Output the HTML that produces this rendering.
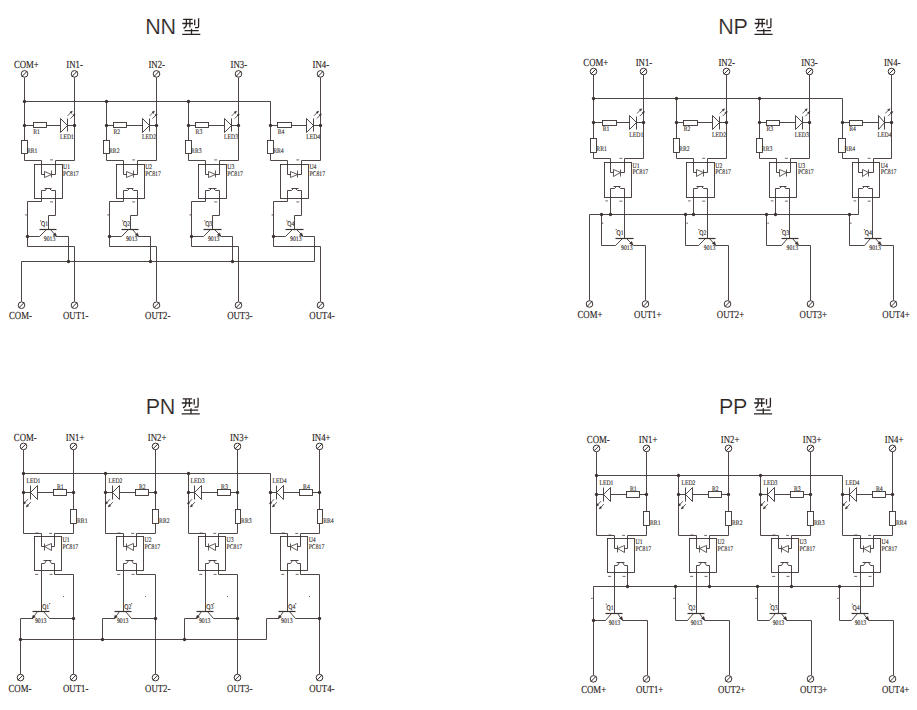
<!DOCTYPE html>
<html><head><meta charset="utf-8"><title>NN NP PN PP</title>
<style>html,body{margin:0;padding:0;background:#fff;width:917px;height:710px;overflow:hidden;font-family:"Liberation Sans",sans-serif;}svg{display:block;}</style>
</head><body>
<svg width="917" height="710" viewBox="0 0 917 710" stroke-linecap="butt"><text x="145.2" y="34" font-size="21.5" fill="#2a2322" font-family="Liberation Sans" stroke="#fff" stroke-width="0.2" letter-spacing="-0.3">NN</text>
<g transform="translate(182.1,34.3) scale(1)"><path d="M1.1,-14.9 H10.5 M0.2,-10.8 H10.9 M4.3,-14.9 V-9.6 Q4.2,-7.2 1.4,-6.0 M7.8,-14.9 V-6.8 M12.6,-14.9 V-9.1 M16.5,-16.1 V-7.8 Q16.5,-6.6 15.2,-6.6 H12.9 M2.4,-3.7 H16.6 M9.4,-5.6 V0 M0.1,0 H18.2" stroke="#2a2322" stroke-width="1.3" fill="none"/></g>
<text x="718.3" y="34" font-size="21.5" fill="#2a2322" font-family="Liberation Sans" stroke="#fff" stroke-width="0.2" letter-spacing="-0.3">NP</text>
<g transform="translate(754.4,34.3) scale(1)"><path d="M1.1,-14.9 H10.5 M0.2,-10.8 H10.9 M4.3,-14.9 V-9.6 Q4.2,-7.2 1.4,-6.0 M7.8,-14.9 V-6.8 M12.6,-14.9 V-9.1 M16.5,-16.1 V-7.8 Q16.5,-6.6 15.2,-6.6 H12.9 M2.4,-3.7 H16.6 M9.4,-5.6 V0 M0.1,0 H18.2" stroke="#2a2322" stroke-width="1.3" fill="none"/></g>
<text x="145.8" y="413.5" font-size="21.5" fill="#2a2322" font-family="Liberation Sans" stroke="#fff" stroke-width="0.2" letter-spacing="-0.3">PN</text>
<g transform="translate(181.6,413.8) scale(1)"><path d="M1.1,-14.9 H10.5 M0.2,-10.8 H10.9 M4.3,-14.9 V-9.6 Q4.2,-7.2 1.4,-6.0 M7.8,-14.9 V-6.8 M12.6,-14.9 V-9.1 M16.5,-16.1 V-7.8 Q16.5,-6.6 15.2,-6.6 H12.9 M2.4,-3.7 H16.6 M9.4,-5.6 V0 M0.1,0 H18.2" stroke="#2a2322" stroke-width="1.3" fill="none"/></g>
<text x="719" y="413.5" font-size="21.5" fill="#2a2322" font-family="Liberation Sans" stroke="#fff" stroke-width="0.2" letter-spacing="-0.3">PP</text>
<g transform="translate(753.9,413.8) scale(1)"><path d="M1.1,-14.9 H10.5 M0.2,-10.8 H10.9 M4.3,-14.9 V-9.6 Q4.2,-7.2 1.4,-6.0 M7.8,-14.9 V-6.8 M12.6,-14.9 V-9.1 M16.5,-16.1 V-7.8 Q16.5,-6.6 15.2,-6.6 H12.9 M2.4,-3.7 H16.6 M9.4,-5.6 V0 M0.1,0 H18.2" stroke="#2a2322" stroke-width="1.3" fill="none"/></g>
<circle cx="74.5" cy="73.9" r="3.3" stroke="#3a3230" stroke-width="1.0" fill="#fff"/>
<path d="M71.86,76.54 L77.14,71.26" stroke="#3a3230" stroke-width="1" fill="none"/>
<text transform="translate(66.3,67.9) scale(0.82,1)" font-size="10.7" text-anchor="start" fill="#2b2421" font-family="Liberation Serif" text-rendering="geometricPrecision" stroke="#2b2421" stroke-width="0.15">IN1-</text>
<path d="M74.5,77.5 L74.5,160.5 L55.5,160.5 L55.5,174.5 L51.5,174.5" stroke="#3a3230" stroke-width="0.9" fill="none"/>
<path d="M24.5,101.5 L24.5,140.5" stroke="#3a3230" stroke-width="0.9" fill="none"/>
<rect x="21.5" y="140.5" width="6" height="13" stroke="#3a3230" stroke-width="0.9" fill="none"/>
<path d="M24.5,153.5 L24.5,160.5 L41.5,160.5 L41.5,174.5 L44.5,174.5" stroke="#3a3230" stroke-width="0.9" fill="none"/>
<path d="M24.5,125.5 L74.5,125.5" stroke="#3a3230" stroke-width="0.9" fill="none"/>
<rect x="33.5" y="122.5" width="13" height="5" stroke="#3a3230" stroke-width="0.9" fill="#fff"/>
<path d="M60.5,118.5 L60.5,132.5 L67.5,125.5 Z" stroke="#3a3230" stroke-width="0.9" fill="#fff"/>
<path d="M67.5,118.5 L67.5,131.5" stroke="#3a3230" stroke-width="0.9" fill="none"/>
<circle cx="24.5" cy="125.5" r="1.65" fill="#3a3230"/>
<circle cx="74.5" cy="125.5" r="1.65" fill="#3a3230"/>
<path d="M67.6,115.8 L72.2,111.2" stroke="#3a3230" stroke-width="0.8" fill="none"/>
<path d="M72.2,111.2 L71.35,113.46 L69.94,112.05 Z" stroke="#3a3230" stroke-width="0.5" fill="#3a3230"/>
<path d="M70.4,118.6 L75,114" stroke="#3a3230" stroke-width="0.8" fill="none"/>
<path d="M75,114 L74.15,116.26 L72.74,114.85 Z" stroke="#3a3230" stroke-width="0.5" fill="#3a3230"/>
<text transform="translate(36.6,133.8) scale(0.82,1)" font-size="7" text-anchor="middle" fill="#2b2421" font-family="Liberation Serif" text-rendering="geometricPrecision" stroke="#2b2421" stroke-width="0.12">R1</text>
<text transform="translate(66.9,138.9) scale(0.82,1)" font-size="7" text-anchor="middle" fill="#2b2421" font-family="Liberation Serif" text-rendering="geometricPrecision" stroke="#2b2421" stroke-width="0.12">LED1</text>
<text transform="translate(26.9,152.9) scale(0.82,1)" font-size="7" text-anchor="start" fill="#2b2421" font-family="Liberation Serif" text-rendering="geometricPrecision" stroke="#2b2421" stroke-width="0.12">RR1</text>
<rect x="34.5" y="164.5" width="28" height="34" stroke="#3a3230" stroke-width="0.9" fill="none"/>
<path d="M44.5,171.5 L44.5,177.5 L51.5,174.5 Z" stroke="#3a3230" stroke-width="0.8" fill="none"/>
<path d="M51.5,170.5 L51.5,177.5" stroke="#3a3230" stroke-width="0.8" fill="none"/>
<text transform="translate(63.1,169.1) scale(0.82,1)" font-size="7" text-anchor="start" fill="#2b2421" font-family="Liberation Serif" text-rendering="geometricPrecision" stroke="#2b2421" stroke-width="0.12">U1</text>
<text transform="translate(63.1,175.8) scale(0.82,1)" font-size="7" text-anchor="start" fill="#2b2421" font-family="Liberation Serif" text-rendering="geometricPrecision" stroke="#2b2421" stroke-width="0.12">PC817</text>
<rect x="50" y="159.4" width="3" height="1" fill="#4e4644" opacity="0.8"/>
<rect x="50" y="201.4" width="3" height="1" fill="#4e4644" opacity="0.8"/>
<circle cx="24.5" cy="101.5" r="1.65" fill="#3a3230"/>
<circle cx="156.5" cy="73.9" r="3.3" stroke="#3a3230" stroke-width="1.0" fill="#fff"/>
<path d="M153.86,76.54 L159.14,71.26" stroke="#3a3230" stroke-width="1" fill="none"/>
<text transform="translate(148.4,67.9) scale(0.82,1)" font-size="10.7" text-anchor="start" fill="#2b2421" font-family="Liberation Serif" text-rendering="geometricPrecision" stroke="#2b2421" stroke-width="0.15">IN2-</text>
<path d="M156.5,77.5 L156.5,160.5 L137.5,160.5 L137.5,174.5 L133.5,174.5" stroke="#3a3230" stroke-width="0.9" fill="none"/>
<path d="M106.5,101.5 L106.5,140.5" stroke="#3a3230" stroke-width="0.9" fill="none"/>
<rect x="103.5" y="140.5" width="6" height="13" stroke="#3a3230" stroke-width="0.9" fill="none"/>
<path d="M106.5,153.5 L106.5,160.5 L123.5,160.5 L123.5,174.5 L126.5,174.5" stroke="#3a3230" stroke-width="0.9" fill="none"/>
<path d="M106.5,125.5 L156.5,125.5" stroke="#3a3230" stroke-width="0.9" fill="none"/>
<rect x="113.5" y="122.5" width="13" height="5" stroke="#3a3230" stroke-width="0.9" fill="#fff"/>
<path d="M142.5,118.5 L142.5,132.5 L149.5,125.5 Z" stroke="#3a3230" stroke-width="0.9" fill="#fff"/>
<path d="M149.5,118.5 L149.5,131.5" stroke="#3a3230" stroke-width="0.9" fill="none"/>
<circle cx="106.5" cy="125.5" r="1.65" fill="#3a3230"/>
<circle cx="156.5" cy="125.5" r="1.65" fill="#3a3230"/>
<path d="M149.7,115.8 L154.3,111.2" stroke="#3a3230" stroke-width="0.8" fill="none"/>
<path d="M154.3,111.2 L153.45,113.46 L152.04,112.05 Z" stroke="#3a3230" stroke-width="0.5" fill="#3a3230"/>
<path d="M152.5,118.6 L157.1,114" stroke="#3a3230" stroke-width="0.8" fill="none"/>
<path d="M157.1,114 L156.25,116.26 L154.84,114.85 Z" stroke="#3a3230" stroke-width="0.5" fill="#3a3230"/>
<text transform="translate(116.8,133.8) scale(0.82,1)" font-size="7" text-anchor="middle" fill="#2b2421" font-family="Liberation Serif" text-rendering="geometricPrecision" stroke="#2b2421" stroke-width="0.12">R2</text>
<text transform="translate(149,138.9) scale(0.82,1)" font-size="7" text-anchor="middle" fill="#2b2421" font-family="Liberation Serif" text-rendering="geometricPrecision" stroke="#2b2421" stroke-width="0.12">LED2</text>
<text transform="translate(109,152.9) scale(0.82,1)" font-size="7" text-anchor="start" fill="#2b2421" font-family="Liberation Serif" text-rendering="geometricPrecision" stroke="#2b2421" stroke-width="0.12">RR2</text>
<rect x="116.5" y="164.5" width="28" height="34" stroke="#3a3230" stroke-width="0.9" fill="none"/>
<path d="M126.5,171.5 L126.5,177.5 L133.5,174.5 Z" stroke="#3a3230" stroke-width="0.8" fill="none"/>
<path d="M133.5,170.5 L133.5,177.5" stroke="#3a3230" stroke-width="0.8" fill="none"/>
<text transform="translate(145.2,169.1) scale(0.82,1)" font-size="7" text-anchor="start" fill="#2b2421" font-family="Liberation Serif" text-rendering="geometricPrecision" stroke="#2b2421" stroke-width="0.12">U2</text>
<text transform="translate(145.2,175.8) scale(0.82,1)" font-size="7" text-anchor="start" fill="#2b2421" font-family="Liberation Serif" text-rendering="geometricPrecision" stroke="#2b2421" stroke-width="0.12">PC817</text>
<rect x="132.1" y="159.4" width="3" height="1" fill="#4e4644" opacity="0.8"/>
<rect x="132.1" y="201.4" width="3" height="1" fill="#4e4644" opacity="0.8"/>
<circle cx="106.5" cy="101.5" r="1.65" fill="#3a3230"/>
<circle cx="238.5" cy="73.9" r="3.3" stroke="#3a3230" stroke-width="1.0" fill="#fff"/>
<path d="M235.86,76.54 L241.14,71.26" stroke="#3a3230" stroke-width="1" fill="none"/>
<text transform="translate(230.5,67.9) scale(0.82,1)" font-size="10.7" text-anchor="start" fill="#2b2421" font-family="Liberation Serif" text-rendering="geometricPrecision" stroke="#2b2421" stroke-width="0.15">IN3-</text>
<path d="M238.5,77.5 L238.5,160.5 L219.5,160.5 L219.5,174.5 L215.5,174.5" stroke="#3a3230" stroke-width="0.9" fill="none"/>
<path d="M188.5,101.5 L188.5,140.5" stroke="#3a3230" stroke-width="0.9" fill="none"/>
<rect x="185.5" y="140.5" width="6" height="13" stroke="#3a3230" stroke-width="0.9" fill="none"/>
<path d="M188.5,153.5 L188.5,160.5 L205.5,160.5 L205.5,174.5 L208.5,174.5" stroke="#3a3230" stroke-width="0.9" fill="none"/>
<path d="M188.5,125.5 L238.5,125.5" stroke="#3a3230" stroke-width="0.9" fill="none"/>
<rect x="195.5" y="122.5" width="13" height="5" stroke="#3a3230" stroke-width="0.9" fill="#fff"/>
<path d="M224.5,118.5 L224.5,132.5 L231.5,125.5 Z" stroke="#3a3230" stroke-width="0.9" fill="#fff"/>
<path d="M231.5,118.5 L231.5,131.5" stroke="#3a3230" stroke-width="0.9" fill="none"/>
<circle cx="188.5" cy="125.5" r="1.65" fill="#3a3230"/>
<circle cx="238.5" cy="125.5" r="1.65" fill="#3a3230"/>
<path d="M231.8,115.8 L236.4,111.2" stroke="#3a3230" stroke-width="0.8" fill="none"/>
<path d="M236.4,111.2 L235.55,113.46 L234.14,112.05 Z" stroke="#3a3230" stroke-width="0.5" fill="#3a3230"/>
<path d="M234.6,118.6 L239.2,114" stroke="#3a3230" stroke-width="0.8" fill="none"/>
<path d="M239.2,114 L238.35,116.26 L236.94,114.85 Z" stroke="#3a3230" stroke-width="0.5" fill="#3a3230"/>
<text transform="translate(198.9,133.8) scale(0.82,1)" font-size="7" text-anchor="middle" fill="#2b2421" font-family="Liberation Serif" text-rendering="geometricPrecision" stroke="#2b2421" stroke-width="0.12">R3</text>
<text transform="translate(231.1,138.9) scale(0.82,1)" font-size="7" text-anchor="middle" fill="#2b2421" font-family="Liberation Serif" text-rendering="geometricPrecision" stroke="#2b2421" stroke-width="0.12">LED3</text>
<text transform="translate(191.1,152.9) scale(0.82,1)" font-size="7" text-anchor="start" fill="#2b2421" font-family="Liberation Serif" text-rendering="geometricPrecision" stroke="#2b2421" stroke-width="0.12">RR3</text>
<rect x="198.5" y="164.5" width="28" height="34" stroke="#3a3230" stroke-width="0.9" fill="none"/>
<path d="M208.5,171.5 L208.5,177.5 L215.5,174.5 Z" stroke="#3a3230" stroke-width="0.8" fill="none"/>
<path d="M215.5,170.5 L215.5,177.5" stroke="#3a3230" stroke-width="0.8" fill="none"/>
<text transform="translate(227.3,169.1) scale(0.82,1)" font-size="7" text-anchor="start" fill="#2b2421" font-family="Liberation Serif" text-rendering="geometricPrecision" stroke="#2b2421" stroke-width="0.12">U3</text>
<text transform="translate(227.3,175.8) scale(0.82,1)" font-size="7" text-anchor="start" fill="#2b2421" font-family="Liberation Serif" text-rendering="geometricPrecision" stroke="#2b2421" stroke-width="0.12">PC817</text>
<rect x="214.2" y="159.4" width="3" height="1" fill="#4e4644" opacity="0.8"/>
<rect x="214.2" y="201.4" width="3" height="1" fill="#4e4644" opacity="0.8"/>
<circle cx="188.5" cy="101.5" r="1.65" fill="#3a3230"/>
<circle cx="320.5" cy="73.9" r="3.3" stroke="#3a3230" stroke-width="1.0" fill="#fff"/>
<path d="M317.86,76.54 L323.14,71.26" stroke="#3a3230" stroke-width="1" fill="none"/>
<text transform="translate(312.6,67.9) scale(0.82,1)" font-size="10.7" text-anchor="start" fill="#2b2421" font-family="Liberation Serif" text-rendering="geometricPrecision" stroke="#2b2421" stroke-width="0.15">IN4-</text>
<path d="M320.5,77.5 L320.5,160.5 L301.5,160.5 L301.5,174.5 L297.5,174.5" stroke="#3a3230" stroke-width="0.9" fill="none"/>
<path d="M270.5,101.5 L270.5,140.5" stroke="#3a3230" stroke-width="0.9" fill="none"/>
<rect x="267.5" y="140.5" width="6" height="13" stroke="#3a3230" stroke-width="0.9" fill="none"/>
<path d="M270.5,153.5 L270.5,160.5 L287.5,160.5 L287.5,174.5 L290.5,174.5" stroke="#3a3230" stroke-width="0.9" fill="none"/>
<path d="M270.5,125.5 L320.5,125.5" stroke="#3a3230" stroke-width="0.9" fill="none"/>
<rect x="277.5" y="122.5" width="14" height="5" stroke="#3a3230" stroke-width="0.9" fill="#fff"/>
<path d="M306.5,118.5 L306.5,132.5 L313.5,125.5 Z" stroke="#3a3230" stroke-width="0.9" fill="#fff"/>
<path d="M313.5,118.5 L313.5,131.5" stroke="#3a3230" stroke-width="0.9" fill="none"/>
<circle cx="270.5" cy="125.5" r="1.65" fill="#3a3230"/>
<circle cx="320.5" cy="125.5" r="1.65" fill="#3a3230"/>
<path d="M313.9,115.8 L318.5,111.2" stroke="#3a3230" stroke-width="0.8" fill="none"/>
<path d="M318.5,111.2 L317.65,113.46 L316.24,112.05 Z" stroke="#3a3230" stroke-width="0.5" fill="#3a3230"/>
<path d="M316.7,118.6 L321.3,114" stroke="#3a3230" stroke-width="0.8" fill="none"/>
<path d="M321.3,114 L320.45,116.26 L319.04,114.85 Z" stroke="#3a3230" stroke-width="0.5" fill="#3a3230"/>
<text transform="translate(281,133.8) scale(0.82,1)" font-size="7" text-anchor="middle" fill="#2b2421" font-family="Liberation Serif" text-rendering="geometricPrecision" stroke="#2b2421" stroke-width="0.12">R4</text>
<text transform="translate(313.2,138.9) scale(0.82,1)" font-size="7" text-anchor="middle" fill="#2b2421" font-family="Liberation Serif" text-rendering="geometricPrecision" stroke="#2b2421" stroke-width="0.12">LED4</text>
<text transform="translate(273.2,152.9) scale(0.82,1)" font-size="7" text-anchor="start" fill="#2b2421" font-family="Liberation Serif" text-rendering="geometricPrecision" stroke="#2b2421" stroke-width="0.12">RR4</text>
<rect x="280.5" y="164.5" width="28" height="34" stroke="#3a3230" stroke-width="0.9" fill="none"/>
<path d="M290.5,171.5 L290.5,177.5 L297.5,174.5 Z" stroke="#3a3230" stroke-width="0.8" fill="none"/>
<path d="M297.5,170.5 L297.5,177.5" stroke="#3a3230" stroke-width="0.8" fill="none"/>
<text transform="translate(309.4,169.1) scale(0.82,1)" font-size="7" text-anchor="start" fill="#2b2421" font-family="Liberation Serif" text-rendering="geometricPrecision" stroke="#2b2421" stroke-width="0.12">U4</text>
<text transform="translate(309.4,175.8) scale(0.82,1)" font-size="7" text-anchor="start" fill="#2b2421" font-family="Liberation Serif" text-rendering="geometricPrecision" stroke="#2b2421" stroke-width="0.12">PC817</text>
<rect x="296.3" y="159.4" width="3" height="1" fill="#4e4644" opacity="0.8"/>
<rect x="296.3" y="201.4" width="3" height="1" fill="#4e4644" opacity="0.8"/>
<path d="M24.5,77.5 L24.5,101.5 L270.5,101.5" stroke="#3a3230" stroke-width="0.9" fill="none"/>
<circle cx="24.5" cy="73.9" r="3.3" stroke="#3a3230" stroke-width="1.0" fill="#fff"/>
<path d="M21.86,76.54 L27.14,71.26" stroke="#3a3230" stroke-width="1" fill="none"/>
<text transform="translate(13.9,67.9) scale(0.82,1)" font-size="10.7" text-anchor="start" fill="#2b2421" font-family="Liberation Serif" text-rendering="geometricPrecision" stroke="#2b2421" stroke-width="0.15">COM+</text>
<path d="M41.5,201.5 L41.5,190.5" stroke="#3a3230" stroke-width="0.9" fill="none"/>
<path d="M55.5,190.5 L55.5,215.5 L48.5,215.5 L48.5,229.5" stroke="#3a3230" stroke-width="0.9" fill="none"/>
<path d="M41.5,190.5 L45.5,190.5" stroke="#3a3230" stroke-width="0.9" fill="none"/>
<path d="M45.5,190.5 L46.5,188.5" stroke="#3a3230" stroke-width="0.9" fill="none"/>
<path d="M49.5,188.5 L51.5,190.5" stroke="#3a3230" stroke-width="0.9" fill="none"/>
<path d="M51.5,190.5 L55.5,190.5" stroke="#3a3230" stroke-width="0.9" fill="none"/>
<path d="M44.5,188.5 L51.5,188.5" stroke="#3a3230" stroke-width="0.9" fill="none"/>
<path d="M41.5,201.5 L27.5,201.5 L27.5,246.5 L74.5,246.5 L74.5,301.5" stroke="#3a3230" stroke-width="0.9" fill="none"/>
<circle cx="27.5" cy="236.5" r="1.65" fill="#3a3230"/>
<path d="M27.5,236.5 L39.5,236.5 L46.5,229.5" stroke="#3a3230" stroke-width="0.9" fill="none"/>
<path d="M39.5,229.5 L56.5,229.5" stroke="#3a3230" stroke-width="1.2" fill="none"/>
<path d="M50.5,229.5 L56.5,236.5 L68.5,236.5 L68.5,261.5" stroke="#3a3230" stroke-width="0.9" fill="none"/>
<path d="M56.5,236.5 L53.15,234.89 L55.43,232.94 Z" stroke="#3a3230" stroke-width="0.5" fill="#3a3230"/>
<circle cx="68.5" cy="261.5" r="1.65" fill="#3a3230"/>
<text transform="translate(41,226.4) scale(0.82,1)" font-size="7" text-anchor="start" fill="#2b2421" font-family="Liberation Serif" text-rendering="geometricPrecision" stroke="#2b2421" stroke-width="0.12">Q1</text>
<rect x="25.3" y="214.3" width="1.6" height="1.2" fill="#4e4644" opacity="0.8"/>
<rect x="40" y="220.3" width="1.2" height="1.2" fill="#4e4644" opacity="0.8"/>
<text transform="translate(43.8,241) scale(0.82,1)" font-size="7" text-anchor="start" fill="#2b2421" font-family="Liberation Serif" text-rendering="geometricPrecision" stroke="#2b2421" stroke-width="0.12">9013</text>
<circle cx="74.5" cy="305.2" r="3.3" stroke="#3a3230" stroke-width="1.0" fill="#fff"/>
<path d="M71.86,307.84 L77.14,302.56" stroke="#3a3230" stroke-width="1" fill="none"/>
<text transform="translate(63,319.2) scale(0.82,1)" font-size="10.7" text-anchor="start" fill="#2b2421" font-family="Liberation Serif" text-rendering="geometricPrecision" stroke="#2b2421" stroke-width="0.15">OUT1-</text>
<path d="M123.5,201.5 L123.5,190.5" stroke="#3a3230" stroke-width="0.9" fill="none"/>
<path d="M137.5,190.5 L137.5,215.5 L130.5,215.5 L130.5,229.5" stroke="#3a3230" stroke-width="0.9" fill="none"/>
<path d="M123.5,190.5 L127.5,190.5" stroke="#3a3230" stroke-width="0.9" fill="none"/>
<path d="M127.5,190.5 L129.5,188.5" stroke="#3a3230" stroke-width="0.9" fill="none"/>
<path d="M131.5,188.5 L133.5,190.5" stroke="#3a3230" stroke-width="0.9" fill="none"/>
<path d="M133.5,190.5 L137.5,190.5" stroke="#3a3230" stroke-width="0.9" fill="none"/>
<path d="M126.5,188.5 L133.5,188.5" stroke="#3a3230" stroke-width="0.9" fill="none"/>
<path d="M123.5,201.5 L109.5,201.5 L109.5,246.5 L156.5,246.5 L156.5,301.5" stroke="#3a3230" stroke-width="0.9" fill="none"/>
<circle cx="109.5" cy="236.5" r="1.65" fill="#3a3230"/>
<path d="M109.5,236.5 L121.5,236.5 L128.5,229.5" stroke="#3a3230" stroke-width="0.9" fill="none"/>
<path d="M121.5,229.5 L138.5,229.5" stroke="#3a3230" stroke-width="1.2" fill="none"/>
<path d="M132.5,229.5 L138.5,236.5 L150.5,236.5 L150.5,261.5" stroke="#3a3230" stroke-width="0.9" fill="none"/>
<path d="M138.6,236.5 L135.25,234.89 L137.53,232.94 Z" stroke="#3a3230" stroke-width="0.5" fill="#3a3230"/>
<circle cx="150.5" cy="261.5" r="1.65" fill="#3a3230"/>
<text transform="translate(123.1,226.4) scale(0.82,1)" font-size="7" text-anchor="start" fill="#2b2421" font-family="Liberation Serif" text-rendering="geometricPrecision" stroke="#2b2421" stroke-width="0.12">Q2</text>
<rect x="107.4" y="214.3" width="1.6" height="1.2" fill="#4e4644" opacity="0.8"/>
<rect x="122.1" y="220.3" width="1.2" height="1.2" fill="#4e4644" opacity="0.8"/>
<text transform="translate(125.9,241) scale(0.82,1)" font-size="7" text-anchor="start" fill="#2b2421" font-family="Liberation Serif" text-rendering="geometricPrecision" stroke="#2b2421" stroke-width="0.12">9013</text>
<circle cx="156.5" cy="305.2" r="3.3" stroke="#3a3230" stroke-width="1.0" fill="#fff"/>
<path d="M153.86,307.84 L159.14,302.56" stroke="#3a3230" stroke-width="1" fill="none"/>
<text transform="translate(145.1,319.2) scale(0.82,1)" font-size="10.7" text-anchor="start" fill="#2b2421" font-family="Liberation Serif" text-rendering="geometricPrecision" stroke="#2b2421" stroke-width="0.15">OUT2-</text>
<path d="M205.5,201.5 L205.5,190.5" stroke="#3a3230" stroke-width="0.9" fill="none"/>
<path d="M219.5,190.5 L219.5,215.5 L212.5,215.5 L212.5,229.5" stroke="#3a3230" stroke-width="0.9" fill="none"/>
<path d="M205.5,190.5 L209.5,190.5" stroke="#3a3230" stroke-width="0.9" fill="none"/>
<path d="M209.5,190.5 L211.5,188.5" stroke="#3a3230" stroke-width="0.9" fill="none"/>
<path d="M213.5,188.5 L215.5,190.5" stroke="#3a3230" stroke-width="0.9" fill="none"/>
<path d="M215.5,190.5 L219.5,190.5" stroke="#3a3230" stroke-width="0.9" fill="none"/>
<path d="M208.5,188.5 L216.5,188.5" stroke="#3a3230" stroke-width="0.9" fill="none"/>
<path d="M205.5,201.5 L191.5,201.5 L191.5,246.5 L238.5,246.5 L238.5,301.5" stroke="#3a3230" stroke-width="0.9" fill="none"/>
<circle cx="191.5" cy="236.5" r="1.65" fill="#3a3230"/>
<path d="M191.5,236.5 L203.5,236.5 L210.5,229.5" stroke="#3a3230" stroke-width="0.9" fill="none"/>
<path d="M203.5,229.5 L221.5,229.5" stroke="#3a3230" stroke-width="1.2" fill="none"/>
<path d="M214.5,229.5 L221.5,236.5 L232.5,236.5 L232.5,261.5" stroke="#3a3230" stroke-width="0.9" fill="none"/>
<path d="M220.7,236.5 L217.35,234.89 L219.63,232.94 Z" stroke="#3a3230" stroke-width="0.5" fill="#3a3230"/>
<circle cx="232.5" cy="261.5" r="1.65" fill="#3a3230"/>
<text transform="translate(205.2,226.4) scale(0.82,1)" font-size="7" text-anchor="start" fill="#2b2421" font-family="Liberation Serif" text-rendering="geometricPrecision" stroke="#2b2421" stroke-width="0.12">Q3</text>
<rect x="189.5" y="214.3" width="1.6" height="1.2" fill="#4e4644" opacity="0.8"/>
<rect x="204.2" y="220.3" width="1.2" height="1.2" fill="#4e4644" opacity="0.8"/>
<text transform="translate(208,241) scale(0.82,1)" font-size="7" text-anchor="start" fill="#2b2421" font-family="Liberation Serif" text-rendering="geometricPrecision" stroke="#2b2421" stroke-width="0.12">9013</text>
<circle cx="238.5" cy="305.2" r="3.3" stroke="#3a3230" stroke-width="1.0" fill="#fff"/>
<path d="M235.86,307.84 L241.14,302.56" stroke="#3a3230" stroke-width="1" fill="none"/>
<text transform="translate(227.2,319.2) scale(0.82,1)" font-size="10.7" text-anchor="start" fill="#2b2421" font-family="Liberation Serif" text-rendering="geometricPrecision" stroke="#2b2421" stroke-width="0.15">OUT3-</text>
<path d="M287.5,201.5 L287.5,190.5" stroke="#3a3230" stroke-width="0.9" fill="none"/>
<path d="M301.5,190.5 L301.5,215.5 L294.5,215.5 L294.5,229.5" stroke="#3a3230" stroke-width="0.9" fill="none"/>
<path d="M287.5,190.5 L291.5,190.5" stroke="#3a3230" stroke-width="0.9" fill="none"/>
<path d="M291.5,190.5 L293.5,188.5" stroke="#3a3230" stroke-width="0.9" fill="none"/>
<path d="M295.5,188.5 L297.5,190.5" stroke="#3a3230" stroke-width="0.9" fill="none"/>
<path d="M297.5,190.5 L301.5,190.5" stroke="#3a3230" stroke-width="0.9" fill="none"/>
<path d="M291.5,188.5 L298.5,188.5" stroke="#3a3230" stroke-width="0.9" fill="none"/>
<path d="M287.5,201.5 L273.5,201.5 L273.5,246.5 L320.5,246.5 L320.5,301.5" stroke="#3a3230" stroke-width="0.9" fill="none"/>
<circle cx="273.5" cy="236.5" r="1.65" fill="#3a3230"/>
<path d="M273.5,236.5 L285.5,236.5 L292.5,229.5" stroke="#3a3230" stroke-width="0.9" fill="none"/>
<path d="M285.5,229.5 L303.5,229.5" stroke="#3a3230" stroke-width="1.2" fill="none"/>
<path d="M296.5,229.5 L303.5,236.5 L314.5,236.5 L314.5,261.5" stroke="#3a3230" stroke-width="0.9" fill="none"/>
<path d="M302.8,236.5 L299.45,234.89 L301.73,232.94 Z" stroke="#3a3230" stroke-width="0.5" fill="#3a3230"/>
<text transform="translate(287.3,226.4) scale(0.82,1)" font-size="7" text-anchor="start" fill="#2b2421" font-family="Liberation Serif" text-rendering="geometricPrecision" stroke="#2b2421" stroke-width="0.12">Q4</text>
<rect x="271.6" y="214.3" width="1.6" height="1.2" fill="#4e4644" opacity="0.8"/>
<rect x="286.3" y="220.3" width="1.2" height="1.2" fill="#4e4644" opacity="0.8"/>
<text transform="translate(290.1,241) scale(0.82,1)" font-size="7" text-anchor="start" fill="#2b2421" font-family="Liberation Serif" text-rendering="geometricPrecision" stroke="#2b2421" stroke-width="0.12">9013</text>
<circle cx="320.5" cy="305.2" r="3.3" stroke="#3a3230" stroke-width="1.0" fill="#fff"/>
<path d="M317.86,307.84 L323.14,302.56" stroke="#3a3230" stroke-width="1" fill="none"/>
<text transform="translate(309.3,319.2) scale(0.82,1)" font-size="10.7" text-anchor="start" fill="#2b2421" font-family="Liberation Serif" text-rendering="geometricPrecision" stroke="#2b2421" stroke-width="0.15">OUT4-</text>
<path d="M21.5,301.5 L21.5,261.5 L314.5,261.5" stroke="#3a3230" stroke-width="0.9" fill="none"/>
<circle cx="21.5" cy="305.2" r="3.3" stroke="#3a3230" stroke-width="1.0" fill="#fff"/>
<path d="M18.86,307.84 L24.14,302.56" stroke="#3a3230" stroke-width="1" fill="none"/>
<text transform="translate(9,319.2) scale(0.82,1)" font-size="10.7" text-anchor="start" fill="#2b2421" font-family="Liberation Serif" text-rendering="geometricPrecision" stroke="#2b2421" stroke-width="0.15">COM-</text>
<circle cx="643.5" cy="71.5" r="3.3" stroke="#3a3230" stroke-width="1.0" fill="#fff"/>
<path d="M640.86,74.14 L646.14,68.86" stroke="#3a3230" stroke-width="1" fill="none"/>
<text transform="translate(635.7,65.5) scale(0.82,1)" font-size="10.7" text-anchor="start" fill="#2b2421" font-family="Liberation Serif" text-rendering="geometricPrecision" stroke="#2b2421" stroke-width="0.15">IN1-</text>
<path d="M643.5,74.5 L643.5,158.5 L624.5,158.5 L624.5,172.5 L620.5,172.5" stroke="#3a3230" stroke-width="0.9" fill="none"/>
<path d="M593.5,98.5 L593.5,138.5" stroke="#3a3230" stroke-width="0.9" fill="none"/>
<rect x="590.5" y="138.5" width="6" height="14" stroke="#3a3230" stroke-width="0.9" fill="none"/>
<path d="M593.5,152.5 L593.5,158.5 L610.5,158.5 L610.5,172.5 L613.5,172.5" stroke="#3a3230" stroke-width="0.9" fill="none"/>
<path d="M593.5,122.5 L643.5,122.5" stroke="#3a3230" stroke-width="0.9" fill="none"/>
<rect x="602.5" y="120.5" width="14" height="5" stroke="#3a3230" stroke-width="0.9" fill="#fff"/>
<path d="M629.5,115.5 L629.5,129.5 L636.5,122.5 Z" stroke="#3a3230" stroke-width="0.9" fill="#fff"/>
<path d="M636.5,116.5 L636.5,129.5" stroke="#3a3230" stroke-width="0.9" fill="none"/>
<circle cx="593.5" cy="122.5" r="1.65" fill="#3a3230"/>
<circle cx="643.5" cy="122.5" r="1.65" fill="#3a3230"/>
<path d="M637,113.4 L641.6,108.8" stroke="#3a3230" stroke-width="0.8" fill="none"/>
<path d="M641.6,108.8 L640.75,111.06 L639.34,109.65 Z" stroke="#3a3230" stroke-width="0.5" fill="#3a3230"/>
<path d="M639.8,116.2 L644.4,111.6" stroke="#3a3230" stroke-width="0.8" fill="none"/>
<path d="M644.4,111.6 L643.55,113.86 L642.14,112.45 Z" stroke="#3a3230" stroke-width="0.5" fill="#3a3230"/>
<text transform="translate(606,131.4) scale(0.82,1)" font-size="7" text-anchor="middle" fill="#2b2421" font-family="Liberation Serif" text-rendering="geometricPrecision" stroke="#2b2421" stroke-width="0.12">R1</text>
<text transform="translate(636.3,136.5) scale(0.82,1)" font-size="7" text-anchor="middle" fill="#2b2421" font-family="Liberation Serif" text-rendering="geometricPrecision" stroke="#2b2421" stroke-width="0.12">LED1</text>
<text transform="translate(596.3,151.3) scale(0.82,1)" font-size="7" text-anchor="start" fill="#2b2421" font-family="Liberation Serif" text-rendering="geometricPrecision" stroke="#2b2421" stroke-width="0.12">RR1</text>
<rect x="604.5" y="162.5" width="27" height="35" stroke="#3a3230" stroke-width="0.9" fill="none"/>
<path d="M613.5,169.5 L613.5,176.5 L620.5,172.5 Z" stroke="#3a3230" stroke-width="0.8" fill="none"/>
<path d="M620.5,169.5 L620.5,176.5" stroke="#3a3230" stroke-width="0.8" fill="none"/>
<text transform="translate(632.5,167.5) scale(0.82,1)" font-size="7" text-anchor="start" fill="#2b2421" font-family="Liberation Serif" text-rendering="geometricPrecision" stroke="#2b2421" stroke-width="0.12">U1</text>
<text transform="translate(632.5,174.2) scale(0.82,1)" font-size="7" text-anchor="start" fill="#2b2421" font-family="Liberation Serif" text-rendering="geometricPrecision" stroke="#2b2421" stroke-width="0.12">PC817</text>
<rect x="619.4" y="157.8" width="3" height="1" fill="#4e4644" opacity="0.8"/>
<rect x="619.4" y="200.64" width="3" height="1" fill="#4e4644" opacity="0.8"/>
<circle cx="593.5" cy="98.5" r="1.65" fill="#3a3230"/>
<circle cx="726.5" cy="71.5" r="3.3" stroke="#3a3230" stroke-width="1.0" fill="#fff"/>
<path d="M723.86,74.14 L729.14,68.86" stroke="#3a3230" stroke-width="1" fill="none"/>
<text transform="translate(718.45,65.5) scale(0.82,1)" font-size="10.7" text-anchor="start" fill="#2b2421" font-family="Liberation Serif" text-rendering="geometricPrecision" stroke="#2b2421" stroke-width="0.15">IN2-</text>
<path d="M726.5,74.5 L726.5,158.5 L707.5,158.5 L707.5,172.5 L703.5,172.5" stroke="#3a3230" stroke-width="0.9" fill="none"/>
<path d="M676.5,98.5 L676.5,138.5" stroke="#3a3230" stroke-width="0.9" fill="none"/>
<rect x="673.5" y="138.5" width="6" height="14" stroke="#3a3230" stroke-width="0.9" fill="none"/>
<path d="M676.5,152.5 L676.5,158.5 L693.5,158.5 L693.5,172.5 L696.5,172.5" stroke="#3a3230" stroke-width="0.9" fill="none"/>
<path d="M676.5,122.5 L726.5,122.5" stroke="#3a3230" stroke-width="0.9" fill="none"/>
<rect x="683.5" y="120.5" width="14" height="5" stroke="#3a3230" stroke-width="0.9" fill="#fff"/>
<path d="M712.5,115.5 L712.5,129.5 L719.5,122.5 Z" stroke="#3a3230" stroke-width="0.9" fill="#fff"/>
<path d="M719.5,116.5 L719.5,129.5" stroke="#3a3230" stroke-width="0.9" fill="none"/>
<circle cx="676.5" cy="122.5" r="1.65" fill="#3a3230"/>
<circle cx="726.5" cy="122.5" r="1.65" fill="#3a3230"/>
<path d="M719.75,113.4 L724.35,108.8" stroke="#3a3230" stroke-width="0.8" fill="none"/>
<path d="M724.35,108.8 L723.5,111.06 L722.09,109.65 Z" stroke="#3a3230" stroke-width="0.5" fill="#3a3230"/>
<path d="M722.55,116.2 L727.15,111.6" stroke="#3a3230" stroke-width="0.8" fill="none"/>
<path d="M727.15,111.6 L726.3,113.86 L724.89,112.45 Z" stroke="#3a3230" stroke-width="0.5" fill="#3a3230"/>
<text transform="translate(687.05,131.4) scale(0.82,1)" font-size="7" text-anchor="middle" fill="#2b2421" font-family="Liberation Serif" text-rendering="geometricPrecision" stroke="#2b2421" stroke-width="0.12">R2</text>
<text transform="translate(719.05,136.5) scale(0.82,1)" font-size="7" text-anchor="middle" fill="#2b2421" font-family="Liberation Serif" text-rendering="geometricPrecision" stroke="#2b2421" stroke-width="0.12">LED2</text>
<text transform="translate(679.05,151.3) scale(0.82,1)" font-size="7" text-anchor="start" fill="#2b2421" font-family="Liberation Serif" text-rendering="geometricPrecision" stroke="#2b2421" stroke-width="0.12">RR2</text>
<rect x="686.5" y="162.5" width="28" height="35" stroke="#3a3230" stroke-width="0.9" fill="none"/>
<path d="M696.5,169.5 L696.5,176.5 L703.5,172.5 Z" stroke="#3a3230" stroke-width="0.8" fill="none"/>
<path d="M703.5,169.5 L703.5,176.5" stroke="#3a3230" stroke-width="0.8" fill="none"/>
<text transform="translate(715.25,167.5) scale(0.82,1)" font-size="7" text-anchor="start" fill="#2b2421" font-family="Liberation Serif" text-rendering="geometricPrecision" stroke="#2b2421" stroke-width="0.12">U2</text>
<text transform="translate(715.25,174.2) scale(0.82,1)" font-size="7" text-anchor="start" fill="#2b2421" font-family="Liberation Serif" text-rendering="geometricPrecision" stroke="#2b2421" stroke-width="0.12">PC817</text>
<rect x="702.15" y="157.8" width="3" height="1" fill="#4e4644" opacity="0.8"/>
<rect x="702.15" y="200.64" width="3" height="1" fill="#4e4644" opacity="0.8"/>
<circle cx="676.5" cy="98.5" r="1.65" fill="#3a3230"/>
<circle cx="809.5" cy="71.5" r="3.3" stroke="#3a3230" stroke-width="1.0" fill="#fff"/>
<path d="M806.86,74.14 L812.14,68.86" stroke="#3a3230" stroke-width="1" fill="none"/>
<text transform="translate(801.2,65.5) scale(0.82,1)" font-size="10.7" text-anchor="start" fill="#2b2421" font-family="Liberation Serif" text-rendering="geometricPrecision" stroke="#2b2421" stroke-width="0.15">IN3-</text>
<path d="M809.5,74.5 L809.5,158.5 L790.5,158.5 L790.5,172.5 L786.5,172.5" stroke="#3a3230" stroke-width="0.9" fill="none"/>
<path d="M759.5,98.5 L759.5,138.5" stroke="#3a3230" stroke-width="0.9" fill="none"/>
<rect x="756.5" y="138.5" width="6" height="14" stroke="#3a3230" stroke-width="0.9" fill="none"/>
<path d="M759.5,152.5 L759.5,158.5 L776.5,158.5 L776.5,172.5 L779.5,172.5" stroke="#3a3230" stroke-width="0.9" fill="none"/>
<path d="M759.5,122.5 L809.5,122.5" stroke="#3a3230" stroke-width="0.9" fill="none"/>
<rect x="766.5" y="120.5" width="13" height="5" stroke="#3a3230" stroke-width="0.9" fill="#fff"/>
<path d="M795.5,115.5 L795.5,129.5 L802.5,122.5 Z" stroke="#3a3230" stroke-width="0.9" fill="#fff"/>
<path d="M802.5,116.5 L802.5,129.5" stroke="#3a3230" stroke-width="0.9" fill="none"/>
<circle cx="759.5" cy="122.5" r="1.65" fill="#3a3230"/>
<circle cx="809.5" cy="122.5" r="1.65" fill="#3a3230"/>
<path d="M802.5,113.4 L807.1,108.8" stroke="#3a3230" stroke-width="0.8" fill="none"/>
<path d="M807.1,108.8 L806.25,111.06 L804.84,109.65 Z" stroke="#3a3230" stroke-width="0.5" fill="#3a3230"/>
<path d="M805.3,116.2 L809.9,111.6" stroke="#3a3230" stroke-width="0.8" fill="none"/>
<path d="M809.9,111.6 L809.05,113.86 L807.64,112.45 Z" stroke="#3a3230" stroke-width="0.5" fill="#3a3230"/>
<text transform="translate(769.8,131.4) scale(0.82,1)" font-size="7" text-anchor="middle" fill="#2b2421" font-family="Liberation Serif" text-rendering="geometricPrecision" stroke="#2b2421" stroke-width="0.12">R3</text>
<text transform="translate(801.8,136.5) scale(0.82,1)" font-size="7" text-anchor="middle" fill="#2b2421" font-family="Liberation Serif" text-rendering="geometricPrecision" stroke="#2b2421" stroke-width="0.12">LED3</text>
<text transform="translate(761.8,151.3) scale(0.82,1)" font-size="7" text-anchor="start" fill="#2b2421" font-family="Liberation Serif" text-rendering="geometricPrecision" stroke="#2b2421" stroke-width="0.12">RR3</text>
<rect x="769.5" y="162.5" width="27" height="35" stroke="#3a3230" stroke-width="0.9" fill="none"/>
<path d="M779.5,169.5 L779.5,176.5 L786.5,172.5 Z" stroke="#3a3230" stroke-width="0.8" fill="none"/>
<path d="M786.5,169.5 L786.5,176.5" stroke="#3a3230" stroke-width="0.8" fill="none"/>
<text transform="translate(798,167.5) scale(0.82,1)" font-size="7" text-anchor="start" fill="#2b2421" font-family="Liberation Serif" text-rendering="geometricPrecision" stroke="#2b2421" stroke-width="0.12">U3</text>
<text transform="translate(798,174.2) scale(0.82,1)" font-size="7" text-anchor="start" fill="#2b2421" font-family="Liberation Serif" text-rendering="geometricPrecision" stroke="#2b2421" stroke-width="0.12">PC817</text>
<rect x="784.9" y="157.8" width="3" height="1" fill="#4e4644" opacity="0.8"/>
<rect x="784.9" y="200.64" width="3" height="1" fill="#4e4644" opacity="0.8"/>
<circle cx="759.5" cy="98.5" r="1.65" fill="#3a3230"/>
<circle cx="891.5" cy="71.5" r="3.3" stroke="#3a3230" stroke-width="1.0" fill="#fff"/>
<path d="M888.86,74.14 L894.14,68.86" stroke="#3a3230" stroke-width="1" fill="none"/>
<text transform="translate(883.95,65.5) scale(0.82,1)" font-size="10.7" text-anchor="start" fill="#2b2421" font-family="Liberation Serif" text-rendering="geometricPrecision" stroke="#2b2421" stroke-width="0.15">IN4-</text>
<path d="M891.5,74.5 L891.5,158.5 L873.5,158.5 L873.5,172.5 L868.5,172.5" stroke="#3a3230" stroke-width="0.9" fill="none"/>
<path d="M842.5,98.5 L842.5,138.5" stroke="#3a3230" stroke-width="0.9" fill="none"/>
<rect x="838.5" y="138.5" width="7" height="14" stroke="#3a3230" stroke-width="0.9" fill="none"/>
<path d="M842.5,152.5 L842.5,158.5 L858.5,158.5 L858.5,172.5 L862.5,172.5" stroke="#3a3230" stroke-width="0.9" fill="none"/>
<path d="M842.5,122.5 L891.5,122.5" stroke="#3a3230" stroke-width="0.9" fill="none"/>
<rect x="849.5" y="120.5" width="13" height="5" stroke="#3a3230" stroke-width="0.9" fill="#fff"/>
<path d="M878.5,115.5 L878.5,129.5 L884.5,122.5 Z" stroke="#3a3230" stroke-width="0.9" fill="#fff"/>
<path d="M884.5,116.5 L884.5,129.5" stroke="#3a3230" stroke-width="0.9" fill="none"/>
<circle cx="842.5" cy="122.5" r="1.65" fill="#3a3230"/>
<circle cx="891.5" cy="122.5" r="1.65" fill="#3a3230"/>
<path d="M885.25,113.4 L889.85,108.8" stroke="#3a3230" stroke-width="0.8" fill="none"/>
<path d="M889.85,108.8 L889,111.06 L887.59,109.65 Z" stroke="#3a3230" stroke-width="0.5" fill="#3a3230"/>
<path d="M888.05,116.2 L892.65,111.6" stroke="#3a3230" stroke-width="0.8" fill="none"/>
<path d="M892.65,111.6 L891.8,113.86 L890.39,112.45 Z" stroke="#3a3230" stroke-width="0.5" fill="#3a3230"/>
<text transform="translate(852.55,131.4) scale(0.82,1)" font-size="7" text-anchor="middle" fill="#2b2421" font-family="Liberation Serif" text-rendering="geometricPrecision" stroke="#2b2421" stroke-width="0.12">R4</text>
<text transform="translate(884.55,136.5) scale(0.82,1)" font-size="7" text-anchor="middle" fill="#2b2421" font-family="Liberation Serif" text-rendering="geometricPrecision" stroke="#2b2421" stroke-width="0.12">LED4</text>
<text transform="translate(844.55,151.3) scale(0.82,1)" font-size="7" text-anchor="start" fill="#2b2421" font-family="Liberation Serif" text-rendering="geometricPrecision" stroke="#2b2421" stroke-width="0.12">RR4</text>
<rect x="852.5" y="162.5" width="27" height="35" stroke="#3a3230" stroke-width="0.9" fill="none"/>
<path d="M862.5,169.5 L862.5,176.5 L868.5,172.5 Z" stroke="#3a3230" stroke-width="0.8" fill="none"/>
<path d="M868.5,169.5 L868.5,176.5" stroke="#3a3230" stroke-width="0.8" fill="none"/>
<text transform="translate(880.75,167.5) scale(0.82,1)" font-size="7" text-anchor="start" fill="#2b2421" font-family="Liberation Serif" text-rendering="geometricPrecision" stroke="#2b2421" stroke-width="0.12">U4</text>
<text transform="translate(880.75,174.2) scale(0.82,1)" font-size="7" text-anchor="start" fill="#2b2421" font-family="Liberation Serif" text-rendering="geometricPrecision" stroke="#2b2421" stroke-width="0.12">PC817</text>
<rect x="867.65" y="157.8" width="3" height="1" fill="#4e4644" opacity="0.8"/>
<rect x="867.65" y="200.64" width="3" height="1" fill="#4e4644" opacity="0.8"/>
<path d="M593.5,74.5 L593.5,98.5 L842.5,98.5" stroke="#3a3230" stroke-width="0.9" fill="none"/>
<circle cx="593.5" cy="71.5" r="3.3" stroke="#3a3230" stroke-width="1.0" fill="#fff"/>
<path d="M590.86,74.14 L596.14,68.86" stroke="#3a3230" stroke-width="1" fill="none"/>
<text transform="translate(583.3,65.5) scale(0.82,1)" font-size="10.7" text-anchor="start" fill="#2b2421" font-family="Liberation Serif" text-rendering="geometricPrecision" stroke="#2b2421" stroke-width="0.15">COM+</text>
<path d="M610.5,214.5 L610.5,188.5" stroke="#3a3230" stroke-width="0.9" fill="none"/>
<path d="M624.5,188.5 L624.5,238.5" stroke="#3a3230" stroke-width="0.9" fill="none"/>
<path d="M610.5,188.5 L614.5,188.5" stroke="#3a3230" stroke-width="0.9" fill="none"/>
<path d="M614.5,188.5 L616.5,186.5" stroke="#3a3230" stroke-width="0.9" fill="none"/>
<path d="M618.5,186.5 L620.5,188.5" stroke="#3a3230" stroke-width="0.9" fill="none"/>
<path d="M620.5,188.5 L624.5,188.5" stroke="#3a3230" stroke-width="0.9" fill="none"/>
<path d="M613.5,186.5 L620.5,186.5" stroke="#3a3230" stroke-width="0.9" fill="none"/>
<circle cx="601.5" cy="214.5" r="1.65" fill="#3a3230"/>
<circle cx="610.5" cy="214.5" r="1.65" fill="#3a3230"/>
<path d="M601.5,214.5 L601.5,245.5 L615.5,245.5 L622.5,238.5" stroke="#3a3230" stroke-width="0.9" fill="none"/>
<path d="M615.5,238.5 L633.5,238.5" stroke="#3a3230" stroke-width="1.2" fill="none"/>
<path d="M626.5,238.5 L633.5,245.5 L645.5,245.5 L645.5,300.5" stroke="#3a3230" stroke-width="0.9" fill="none"/>
<path d="M633,245 L629.57,243.58 L631.74,241.5 Z" stroke="#3a3230" stroke-width="0.5" fill="#3a3230"/>
<text transform="translate(616.6,235.2) scale(0.82,1)" font-size="7" text-anchor="start" fill="#2b2421" font-family="Liberation Serif" text-rendering="geometricPrecision" stroke="#2b2421" stroke-width="0.12">Q1</text>
<rect x="605.3" y="200.4" width="2.6" height="1" fill="#4e4644" opacity="0.8"/>
<rect x="601.9" y="222.6" width="1.4" height="1.2" fill="#4e4644" opacity="0.8"/>
<rect x="615.6" y="229" width="1.2" height="1.2" fill="#4e4644" opacity="0.8"/>
<text transform="translate(621.1,249.9) scale(0.82,1)" font-size="7" text-anchor="start" fill="#2b2421" font-family="Liberation Serif" text-rendering="geometricPrecision" stroke="#2b2421" stroke-width="0.12">9013</text>
<circle cx="645.5" cy="304" r="3.3" stroke="#3a3230" stroke-width="1.0" fill="#fff"/>
<path d="M642.86,306.64 L648.14,301.36" stroke="#3a3230" stroke-width="1" fill="none"/>
<text transform="translate(634.1,317.8) scale(0.82,1)" font-size="10.7" text-anchor="start" fill="#2b2421" font-family="Liberation Serif" text-rendering="geometricPrecision" stroke="#2b2421" stroke-width="0.15">OUT1+</text>
<path d="M693.5,214.5 L693.5,188.5" stroke="#3a3230" stroke-width="0.9" fill="none"/>
<path d="M707.5,188.5 L707.5,238.5" stroke="#3a3230" stroke-width="0.9" fill="none"/>
<path d="M693.5,188.5 L697.5,188.5" stroke="#3a3230" stroke-width="0.9" fill="none"/>
<path d="M697.5,188.5 L698.5,186.5" stroke="#3a3230" stroke-width="0.9" fill="none"/>
<path d="M701.5,186.5 L703.5,188.5" stroke="#3a3230" stroke-width="0.9" fill="none"/>
<path d="M703.5,188.5 L707.5,188.5" stroke="#3a3230" stroke-width="0.9" fill="none"/>
<path d="M696.5,186.5 L703.5,186.5" stroke="#3a3230" stroke-width="0.9" fill="none"/>
<circle cx="685.5" cy="214.5" r="1.65" fill="#3a3230"/>
<circle cx="693.5" cy="214.5" r="1.65" fill="#3a3230"/>
<path d="M685.5,214.5 L685.5,245.5 L698.5,245.5 L705.5,238.5" stroke="#3a3230" stroke-width="0.9" fill="none"/>
<path d="M698.5,238.5 L715.5,238.5" stroke="#3a3230" stroke-width="1.2" fill="none"/>
<path d="M709.5,238.5 L715.5,245.5 L728.5,245.5 L728.5,300.5" stroke="#3a3230" stroke-width="0.9" fill="none"/>
<path d="M715.75,245 L712.32,243.58 L714.49,241.5 Z" stroke="#3a3230" stroke-width="0.5" fill="#3a3230"/>
<text transform="translate(699.35,235.2) scale(0.82,1)" font-size="7" text-anchor="start" fill="#2b2421" font-family="Liberation Serif" text-rendering="geometricPrecision" stroke="#2b2421" stroke-width="0.12">Q2</text>
<rect x="688.05" y="200.4" width="2.6" height="1" fill="#4e4644" opacity="0.8"/>
<rect x="686.45" y="222.6" width="1.4" height="1.2" fill="#4e4644" opacity="0.8"/>
<rect x="698.35" y="229" width="1.2" height="1.2" fill="#4e4644" opacity="0.8"/>
<text transform="translate(703.85,249.9) scale(0.82,1)" font-size="7" text-anchor="start" fill="#2b2421" font-family="Liberation Serif" text-rendering="geometricPrecision" stroke="#2b2421" stroke-width="0.12">9013</text>
<circle cx="727.5" cy="304" r="3.3" stroke="#3a3230" stroke-width="1.0" fill="#fff"/>
<path d="M724.86,306.64 L730.14,301.36" stroke="#3a3230" stroke-width="1" fill="none"/>
<text transform="translate(716.85,317.8) scale(0.82,1)" font-size="10.7" text-anchor="start" fill="#2b2421" font-family="Liberation Serif" text-rendering="geometricPrecision" stroke="#2b2421" stroke-width="0.15">OUT2+</text>
<path d="M775.5,214.5 L775.5,188.5" stroke="#3a3230" stroke-width="0.9" fill="none"/>
<path d="M789.5,188.5 L789.5,238.5" stroke="#3a3230" stroke-width="0.9" fill="none"/>
<path d="M775.5,188.5 L779.5,188.5" stroke="#3a3230" stroke-width="0.9" fill="none"/>
<path d="M779.5,188.5 L781.5,186.5" stroke="#3a3230" stroke-width="0.9" fill="none"/>
<path d="M784.5,186.5 L785.5,188.5" stroke="#3a3230" stroke-width="0.9" fill="none"/>
<path d="M785.5,188.5 L789.5,188.5" stroke="#3a3230" stroke-width="0.9" fill="none"/>
<path d="M779.5,186.5 L786.5,186.5" stroke="#3a3230" stroke-width="0.9" fill="none"/>
<circle cx="766.5" cy="214.5" r="1.65" fill="#3a3230"/>
<circle cx="775.5" cy="214.5" r="1.65" fill="#3a3230"/>
<path d="M766.5,214.5 L766.5,245.5 L781.5,245.5 L787.5,238.5" stroke="#3a3230" stroke-width="0.9" fill="none"/>
<path d="M781.5,238.5 L798.5,238.5" stroke="#3a3230" stroke-width="1.2" fill="none"/>
<path d="M792.5,238.5 L798.5,245.5 L810.5,245.5 L810.5,300.5" stroke="#3a3230" stroke-width="0.9" fill="none"/>
<path d="M798.5,245 L795.07,243.58 L797.24,241.5 Z" stroke="#3a3230" stroke-width="0.5" fill="#3a3230"/>
<text transform="translate(782.1,235.2) scale(0.82,1)" font-size="7" text-anchor="start" fill="#2b2421" font-family="Liberation Serif" text-rendering="geometricPrecision" stroke="#2b2421" stroke-width="0.12">Q3</text>
<rect x="770.8" y="200.4" width="2.6" height="1" fill="#4e4644" opacity="0.8"/>
<rect x="767.4" y="222.6" width="1.4" height="1.2" fill="#4e4644" opacity="0.8"/>
<rect x="781.1" y="229" width="1.2" height="1.2" fill="#4e4644" opacity="0.8"/>
<text transform="translate(786.6,249.9) scale(0.82,1)" font-size="7" text-anchor="start" fill="#2b2421" font-family="Liberation Serif" text-rendering="geometricPrecision" stroke="#2b2421" stroke-width="0.12">9013</text>
<circle cx="810.5" cy="304" r="3.3" stroke="#3a3230" stroke-width="1.0" fill="#fff"/>
<path d="M807.86,306.64 L813.14,301.36" stroke="#3a3230" stroke-width="1" fill="none"/>
<text transform="translate(799.6,317.8) scale(0.82,1)" font-size="10.7" text-anchor="start" fill="#2b2421" font-family="Liberation Serif" text-rendering="geometricPrecision" stroke="#2b2421" stroke-width="0.15">OUT3+</text>
<path d="M858.5,214.5 L858.5,188.5" stroke="#3a3230" stroke-width="0.9" fill="none"/>
<path d="M872.5,188.5 L872.5,238.5" stroke="#3a3230" stroke-width="0.9" fill="none"/>
<path d="M858.5,188.5 L862.5,188.5" stroke="#3a3230" stroke-width="0.9" fill="none"/>
<path d="M862.5,188.5 L864.5,186.5" stroke="#3a3230" stroke-width="0.9" fill="none"/>
<path d="M866.5,186.5 L868.5,188.5" stroke="#3a3230" stroke-width="0.9" fill="none"/>
<path d="M868.5,188.5 L872.5,188.5" stroke="#3a3230" stroke-width="0.9" fill="none"/>
<path d="M862.5,186.5 L869.5,186.5" stroke="#3a3230" stroke-width="0.9" fill="none"/>
<circle cx="849.5" cy="214.5" r="1.65" fill="#3a3230"/>
<path d="M849.5,214.5 L849.5,245.5 L864.5,245.5 L870.5,238.5" stroke="#3a3230" stroke-width="0.9" fill="none"/>
<path d="M864.5,238.5 L881.5,238.5" stroke="#3a3230" stroke-width="1.2" fill="none"/>
<path d="M875.5,238.5 L881.5,245.5 L893.5,245.5 L893.5,300.5" stroke="#3a3230" stroke-width="0.9" fill="none"/>
<path d="M881.25,245 L877.82,243.58 L879.99,241.5 Z" stroke="#3a3230" stroke-width="0.5" fill="#3a3230"/>
<text transform="translate(864.85,235.2) scale(0.82,1)" font-size="7" text-anchor="start" fill="#2b2421" font-family="Liberation Serif" text-rendering="geometricPrecision" stroke="#2b2421" stroke-width="0.12">Q4</text>
<rect x="853.55" y="200.4" width="2.6" height="1" fill="#4e4644" opacity="0.8"/>
<rect x="850.15" y="222.6" width="1.4" height="1.2" fill="#4e4644" opacity="0.8"/>
<rect x="863.85" y="229" width="1.2" height="1.2" fill="#4e4644" opacity="0.8"/>
<text transform="translate(869.35,249.9) scale(0.82,1)" font-size="7" text-anchor="start" fill="#2b2421" font-family="Liberation Serif" text-rendering="geometricPrecision" stroke="#2b2421" stroke-width="0.12">9013</text>
<circle cx="893.5" cy="304" r="3.3" stroke="#3a3230" stroke-width="1.0" fill="#fff"/>
<path d="M890.86,306.64 L896.14,301.36" stroke="#3a3230" stroke-width="1" fill="none"/>
<text transform="translate(882.35,317.8) scale(0.82,1)" font-size="10.7" text-anchor="start" fill="#2b2421" font-family="Liberation Serif" text-rendering="geometricPrecision" stroke="#2b2421" stroke-width="0.15">OUT4+</text>
<path d="M589.5,300.5 L589.5,214.5 L858.5,214.5" stroke="#3a3230" stroke-width="0.9" fill="none"/>
<circle cx="589.5" cy="304" r="3.3" stroke="#3a3230" stroke-width="1.0" fill="#fff"/>
<path d="M586.86,306.64 L592.14,301.36" stroke="#3a3230" stroke-width="1" fill="none"/>
<text transform="translate(577.5,317.8) scale(0.82,1)" font-size="10.7" text-anchor="start" fill="#2b2421" font-family="Liberation Serif" text-rendering="geometricPrecision" stroke="#2b2421" stroke-width="0.15">COM+</text>
<circle cx="73.5" cy="446.4" r="3.3" stroke="#3a3230" stroke-width="1.0" fill="#fff"/>
<path d="M70.86,449.04 L76.14,443.76" stroke="#3a3230" stroke-width="1" fill="none"/>
<text transform="translate(65.8,440.7) scale(0.82,1)" font-size="10.7" text-anchor="start" fill="#2b2421" font-family="Liberation Serif" text-rendering="geometricPrecision" stroke="#2b2421" stroke-width="0.15">IN1+</text>
<path d="M73.5,449.5 L73.5,509.5" stroke="#3a3230" stroke-width="0.9" fill="none"/>
<rect x="70.5" y="509.5" width="6" height="14" stroke="#3a3230" stroke-width="0.9" fill="none"/>
<path d="M73.5,523.5 L73.5,533.5 L54.5,533.5 L54.5,546.5 L51.5,546.5" stroke="#3a3230" stroke-width="0.9" fill="none"/>
<path d="M23.5,473.5 L23.5,533.5 L41.5,533.5 L41.5,546.5 L44.5,546.5" stroke="#3a3230" stroke-width="0.9" fill="none"/>
<path d="M23.5,492.5 L30.5,492.5" stroke="#3a3230" stroke-width="0.9" fill="none"/>
<path d="M37.5,485.5 L37.5,499.5 L30.5,492.5 Z" stroke="#3a3230" stroke-width="0.9" fill="none"/>
<path d="M30.5,485.5 L30.5,499.5" stroke="#3a3230" stroke-width="0.9" fill="none"/>
<path d="M37.5,492.5 L53.5,492.5" stroke="#3a3230" stroke-width="0.9" fill="none"/>
<rect x="53.5" y="489.5" width="13" height="6" stroke="#3a3230" stroke-width="0.9" fill="none"/>
<path d="M66.5,492.5 L73.5,492.5" stroke="#3a3230" stroke-width="0.9" fill="none"/>
<circle cx="23.5" cy="492.5" r="1.65" fill="#3a3230"/>
<circle cx="73.5" cy="492.5" r="1.65" fill="#3a3230"/>
<path d="M27.9,499.2 L23.5,504" stroke="#3a3230" stroke-width="0.8" fill="none"/>
<path d="M23.5,504 L24.25,501.7 L25.72,503.05 Z" stroke="#3a3230" stroke-width="0.5" fill="#3a3230"/>
<path d="M30.8,502.1 L26.4,506.9" stroke="#3a3230" stroke-width="0.8" fill="none"/>
<path d="M26.4,506.9 L27.15,504.6 L28.62,505.95 Z" stroke="#3a3230" stroke-width="0.5" fill="#3a3230"/>
<text transform="translate(33.4,483.1) scale(0.82,1)" font-size="7" text-anchor="middle" fill="#2b2421" font-family="Liberation Serif" text-rendering="geometricPrecision" stroke="#2b2421" stroke-width="0.12">LED1</text>
<text transform="translate(60.3,489) scale(0.82,1)" font-size="7" text-anchor="middle" fill="#2b2421" font-family="Liberation Serif" text-rendering="geometricPrecision" stroke="#2b2421" stroke-width="0.12">R1</text>
<text transform="translate(77,523.3) scale(0.82,1)" font-size="7" text-anchor="start" fill="#2b2421" font-family="Liberation Serif" text-rendering="geometricPrecision" stroke="#2b2421" stroke-width="0.12">RR1</text>
<rect x="34.5" y="536.5" width="27" height="34" stroke="#3a3230" stroke-width="0.9" fill="none"/>
<path d="M51.5,543.5 L51.5,550.5 L44.5,546.5 Z" stroke="#3a3230" stroke-width="0.8" fill="none"/>
<path d="M44.5,543.5 L44.5,550.5" stroke="#3a3230" stroke-width="0.8" fill="none"/>
<text transform="translate(62.5,542.2) scale(0.82,1)" font-size="7" text-anchor="start" fill="#2b2421" font-family="Liberation Serif" text-rendering="geometricPrecision" stroke="#2b2421" stroke-width="0.12">U1</text>
<rect x="35.5" y="532.5" width="3" height="1.4" fill="#4e4644" opacity="0.8"/>
<rect x="49.1" y="532.9" width="3" height="1" fill="#4e4644" opacity="0.8"/>
<rect x="35.1" y="573.9" width="3" height="1" fill="#4e4644" opacity="0.8"/>
<rect x="49.5" y="573.9" width="3" height="1" fill="#4e4644" opacity="0.8"/>
<text transform="translate(62.5,549) scale(0.82,1)" font-size="7" text-anchor="start" fill="#2b2421" font-family="Liberation Serif" text-rendering="geometricPrecision" stroke="#2b2421" stroke-width="0.12">PC817</text>
<circle cx="23.5" cy="473.5" r="1.65" fill="#3a3230"/>
<circle cx="155.5" cy="446.4" r="3.3" stroke="#3a3230" stroke-width="1.0" fill="#fff"/>
<path d="M152.86,449.04 L158.14,443.76" stroke="#3a3230" stroke-width="1" fill="none"/>
<text transform="translate(147.85,440.7) scale(0.82,1)" font-size="10.7" text-anchor="start" fill="#2b2421" font-family="Liberation Serif" text-rendering="geometricPrecision" stroke="#2b2421" stroke-width="0.15">IN2+</text>
<path d="M155.5,449.5 L155.5,509.5" stroke="#3a3230" stroke-width="0.9" fill="none"/>
<rect x="152.5" y="509.5" width="6" height="14" stroke="#3a3230" stroke-width="0.9" fill="none"/>
<path d="M155.5,523.5 L155.5,533.5 L136.5,533.5 L136.5,546.5 L133.5,546.5" stroke="#3a3230" stroke-width="0.9" fill="none"/>
<path d="M105.5,473.5 L105.5,533.5 L123.5,533.5 L123.5,546.5 L126.5,546.5" stroke="#3a3230" stroke-width="0.9" fill="none"/>
<path d="M105.5,492.5 L112.5,492.5" stroke="#3a3230" stroke-width="0.9" fill="none"/>
<path d="M119.5,485.5 L119.5,499.5 L112.5,492.5 Z" stroke="#3a3230" stroke-width="0.9" fill="none"/>
<path d="M112.5,485.5 L112.5,499.5" stroke="#3a3230" stroke-width="0.9" fill="none"/>
<path d="M119.5,492.5 L135.5,492.5" stroke="#3a3230" stroke-width="0.9" fill="none"/>
<rect x="135.5" y="489.5" width="13" height="6" stroke="#3a3230" stroke-width="0.9" fill="none"/>
<path d="M148.5,492.5 L155.5,492.5" stroke="#3a3230" stroke-width="0.9" fill="none"/>
<circle cx="105.5" cy="492.5" r="1.65" fill="#3a3230"/>
<circle cx="155.5" cy="492.5" r="1.65" fill="#3a3230"/>
<path d="M109.95,499.2 L105.55,504" stroke="#3a3230" stroke-width="0.8" fill="none"/>
<path d="M105.55,504 L106.3,501.7 L107.77,503.05 Z" stroke="#3a3230" stroke-width="0.5" fill="#3a3230"/>
<path d="M112.85,502.1 L108.45,506.9" stroke="#3a3230" stroke-width="0.8" fill="none"/>
<path d="M108.45,506.9 L109.2,504.6 L110.67,505.95 Z" stroke="#3a3230" stroke-width="0.5" fill="#3a3230"/>
<text transform="translate(115.45,483.1) scale(0.82,1)" font-size="7" text-anchor="middle" fill="#2b2421" font-family="Liberation Serif" text-rendering="geometricPrecision" stroke="#2b2421" stroke-width="0.12">LED2</text>
<text transform="translate(142.35,489) scale(0.82,1)" font-size="7" text-anchor="middle" fill="#2b2421" font-family="Liberation Serif" text-rendering="geometricPrecision" stroke="#2b2421" stroke-width="0.12">R2</text>
<text transform="translate(159.05,523.3) scale(0.82,1)" font-size="7" text-anchor="start" fill="#2b2421" font-family="Liberation Serif" text-rendering="geometricPrecision" stroke="#2b2421" stroke-width="0.12">RR2</text>
<rect x="116.5" y="536.5" width="27" height="34" stroke="#3a3230" stroke-width="0.9" fill="none"/>
<path d="M133.5,543.5 L133.5,550.5 L126.5,546.5 Z" stroke="#3a3230" stroke-width="0.8" fill="none"/>
<path d="M126.5,543.5 L126.5,550.5" stroke="#3a3230" stroke-width="0.8" fill="none"/>
<text transform="translate(144.55,542.2) scale(0.82,1)" font-size="7" text-anchor="start" fill="#2b2421" font-family="Liberation Serif" text-rendering="geometricPrecision" stroke="#2b2421" stroke-width="0.12">U2</text>
<rect x="117.55" y="532.5" width="3" height="1.4" fill="#4e4644" opacity="0.8"/>
<rect x="131.15" y="532.9" width="3" height="1" fill="#4e4644" opacity="0.8"/>
<rect x="117.15" y="573.9" width="3" height="1" fill="#4e4644" opacity="0.8"/>
<rect x="131.55" y="573.9" width="3" height="1" fill="#4e4644" opacity="0.8"/>
<text transform="translate(144.55,549) scale(0.82,1)" font-size="7" text-anchor="start" fill="#2b2421" font-family="Liberation Serif" text-rendering="geometricPrecision" stroke="#2b2421" stroke-width="0.12">PC817</text>
<circle cx="105.5" cy="473.5" r="1.65" fill="#3a3230"/>
<circle cx="237.5" cy="446.4" r="3.3" stroke="#3a3230" stroke-width="1.0" fill="#fff"/>
<path d="M234.86,449.04 L240.14,443.76" stroke="#3a3230" stroke-width="1" fill="none"/>
<text transform="translate(229.9,440.7) scale(0.82,1)" font-size="10.7" text-anchor="start" fill="#2b2421" font-family="Liberation Serif" text-rendering="geometricPrecision" stroke="#2b2421" stroke-width="0.15">IN3+</text>
<path d="M237.5,449.5 L237.5,509.5" stroke="#3a3230" stroke-width="0.9" fill="none"/>
<rect x="235.5" y="509.5" width="5" height="14" stroke="#3a3230" stroke-width="0.9" fill="none"/>
<path d="M237.5,523.5 L237.5,533.5 L218.5,533.5 L218.5,546.5 L215.5,546.5" stroke="#3a3230" stroke-width="0.9" fill="none"/>
<path d="M188.5,473.5 L188.5,533.5 L205.5,533.5 L205.5,546.5 L208.5,546.5" stroke="#3a3230" stroke-width="0.9" fill="none"/>
<path d="M188.5,492.5 L194.5,492.5" stroke="#3a3230" stroke-width="0.9" fill="none"/>
<path d="M201.5,485.5 L201.5,499.5 L194.5,492.5 Z" stroke="#3a3230" stroke-width="0.9" fill="none"/>
<path d="M194.5,485.5 L194.5,499.5" stroke="#3a3230" stroke-width="0.9" fill="none"/>
<path d="M201.5,492.5 L217.5,492.5" stroke="#3a3230" stroke-width="0.9" fill="none"/>
<rect x="217.5" y="489.5" width="13" height="6" stroke="#3a3230" stroke-width="0.9" fill="none"/>
<path d="M230.5,492.5 L237.5,492.5" stroke="#3a3230" stroke-width="0.9" fill="none"/>
<circle cx="188.5" cy="492.5" r="1.65" fill="#3a3230"/>
<circle cx="237.5" cy="492.5" r="1.65" fill="#3a3230"/>
<path d="M192,499.2 L187.6,504" stroke="#3a3230" stroke-width="0.8" fill="none"/>
<path d="M187.6,504 L188.35,501.7 L189.82,503.05 Z" stroke="#3a3230" stroke-width="0.5" fill="#3a3230"/>
<path d="M194.9,502.1 L190.5,506.9" stroke="#3a3230" stroke-width="0.8" fill="none"/>
<path d="M190.5,506.9 L191.25,504.6 L192.72,505.95 Z" stroke="#3a3230" stroke-width="0.5" fill="#3a3230"/>
<text transform="translate(197.5,483.1) scale(0.82,1)" font-size="7" text-anchor="middle" fill="#2b2421" font-family="Liberation Serif" text-rendering="geometricPrecision" stroke="#2b2421" stroke-width="0.12">LED3</text>
<text transform="translate(224.4,489) scale(0.82,1)" font-size="7" text-anchor="middle" fill="#2b2421" font-family="Liberation Serif" text-rendering="geometricPrecision" stroke="#2b2421" stroke-width="0.12">R3</text>
<text transform="translate(241.1,523.3) scale(0.82,1)" font-size="7" text-anchor="start" fill="#2b2421" font-family="Liberation Serif" text-rendering="geometricPrecision" stroke="#2b2421" stroke-width="0.12">RR3</text>
<rect x="198.5" y="536.5" width="27" height="34" stroke="#3a3230" stroke-width="0.9" fill="none"/>
<path d="M215.5,543.5 L215.5,550.5 L208.5,546.5 Z" stroke="#3a3230" stroke-width="0.8" fill="none"/>
<path d="M208.5,543.5 L208.5,550.5" stroke="#3a3230" stroke-width="0.8" fill="none"/>
<text transform="translate(226.6,542.2) scale(0.82,1)" font-size="7" text-anchor="start" fill="#2b2421" font-family="Liberation Serif" text-rendering="geometricPrecision" stroke="#2b2421" stroke-width="0.12">U3</text>
<rect x="199.6" y="532.5" width="3" height="1.4" fill="#4e4644" opacity="0.8"/>
<rect x="213.2" y="532.9" width="3" height="1" fill="#4e4644" opacity="0.8"/>
<rect x="199.2" y="573.9" width="3" height="1" fill="#4e4644" opacity="0.8"/>
<rect x="213.6" y="573.9" width="3" height="1" fill="#4e4644" opacity="0.8"/>
<text transform="translate(226.6,549) scale(0.82,1)" font-size="7" text-anchor="start" fill="#2b2421" font-family="Liberation Serif" text-rendering="geometricPrecision" stroke="#2b2421" stroke-width="0.12">PC817</text>
<circle cx="188.5" cy="473.5" r="1.65" fill="#3a3230"/>
<circle cx="319.5" cy="446.4" r="3.3" stroke="#3a3230" stroke-width="1.0" fill="#fff"/>
<path d="M316.86,449.04 L322.14,443.76" stroke="#3a3230" stroke-width="1" fill="none"/>
<text transform="translate(311.95,440.7) scale(0.82,1)" font-size="10.7" text-anchor="start" fill="#2b2421" font-family="Liberation Serif" text-rendering="geometricPrecision" stroke="#2b2421" stroke-width="0.15">IN4+</text>
<path d="M319.5,449.5 L319.5,509.5" stroke="#3a3230" stroke-width="0.9" fill="none"/>
<rect x="317.5" y="509.5" width="5" height="14" stroke="#3a3230" stroke-width="0.9" fill="none"/>
<path d="M319.5,523.5 L319.5,533.5 L300.5,533.5 L300.5,546.5 L297.5,546.5" stroke="#3a3230" stroke-width="0.9" fill="none"/>
<path d="M270.5,473.5 L270.5,533.5 L287.5,533.5 L287.5,546.5 L290.5,546.5" stroke="#3a3230" stroke-width="0.9" fill="none"/>
<path d="M270.5,492.5 L276.5,492.5" stroke="#3a3230" stroke-width="0.9" fill="none"/>
<path d="M283.5,485.5 L283.5,499.5 L276.5,492.5 Z" stroke="#3a3230" stroke-width="0.9" fill="none"/>
<path d="M276.5,485.5 L276.5,499.5" stroke="#3a3230" stroke-width="0.9" fill="none"/>
<path d="M283.5,492.5 L299.5,492.5" stroke="#3a3230" stroke-width="0.9" fill="none"/>
<rect x="299.5" y="489.5" width="13" height="6" stroke="#3a3230" stroke-width="0.9" fill="none"/>
<path d="M312.5,492.5 L319.5,492.5" stroke="#3a3230" stroke-width="0.9" fill="none"/>
<circle cx="270.5" cy="492.5" r="1.65" fill="#3a3230"/>
<circle cx="319.5" cy="492.5" r="1.65" fill="#3a3230"/>
<path d="M274.05,499.2 L269.65,504" stroke="#3a3230" stroke-width="0.8" fill="none"/>
<path d="M269.65,504 L270.4,501.7 L271.87,503.05 Z" stroke="#3a3230" stroke-width="0.5" fill="#3a3230"/>
<path d="M276.95,502.1 L272.55,506.9" stroke="#3a3230" stroke-width="0.8" fill="none"/>
<path d="M272.55,506.9 L273.3,504.6 L274.77,505.95 Z" stroke="#3a3230" stroke-width="0.5" fill="#3a3230"/>
<text transform="translate(279.55,483.1) scale(0.82,1)" font-size="7" text-anchor="middle" fill="#2b2421" font-family="Liberation Serif" text-rendering="geometricPrecision" stroke="#2b2421" stroke-width="0.12">LED4</text>
<text transform="translate(306.45,489) scale(0.82,1)" font-size="7" text-anchor="middle" fill="#2b2421" font-family="Liberation Serif" text-rendering="geometricPrecision" stroke="#2b2421" stroke-width="0.12">R4</text>
<text transform="translate(323.15,523.3) scale(0.82,1)" font-size="7" text-anchor="start" fill="#2b2421" font-family="Liberation Serif" text-rendering="geometricPrecision" stroke="#2b2421" stroke-width="0.12">RR4</text>
<rect x="280.5" y="536.5" width="27" height="34" stroke="#3a3230" stroke-width="0.9" fill="none"/>
<path d="M297.5,543.5 L297.5,550.5 L290.5,546.5 Z" stroke="#3a3230" stroke-width="0.8" fill="none"/>
<path d="M290.5,543.5 L290.5,550.5" stroke="#3a3230" stroke-width="0.8" fill="none"/>
<text transform="translate(308.65,542.2) scale(0.82,1)" font-size="7" text-anchor="start" fill="#2b2421" font-family="Liberation Serif" text-rendering="geometricPrecision" stroke="#2b2421" stroke-width="0.12">U4</text>
<rect x="281.65" y="532.5" width="3" height="1.4" fill="#4e4644" opacity="0.8"/>
<rect x="295.25" y="532.9" width="3" height="1" fill="#4e4644" opacity="0.8"/>
<rect x="281.25" y="573.9" width="3" height="1" fill="#4e4644" opacity="0.8"/>
<rect x="295.65" y="573.9" width="3" height="1" fill="#4e4644" opacity="0.8"/>
<text transform="translate(308.65,549) scale(0.82,1)" font-size="7" text-anchor="start" fill="#2b2421" font-family="Liberation Serif" text-rendering="geometricPrecision" stroke="#2b2421" stroke-width="0.12">PC817</text>
<path d="M23.5,449.5 L23.5,473.5 L270.5,473.5" stroke="#3a3230" stroke-width="0.9" fill="none"/>
<circle cx="23.5" cy="446.4" r="3.3" stroke="#3a3230" stroke-width="1.0" fill="#fff"/>
<path d="M20.86,449.04 L26.14,443.76" stroke="#3a3230" stroke-width="1" fill="none"/>
<text transform="translate(13.8,440.7) scale(0.82,1)" font-size="10.7" text-anchor="start" fill="#2b2421" font-family="Liberation Serif" text-rendering="geometricPrecision" stroke="#2b2421" stroke-width="0.15">COM-</text>
<path d="M41.5,611.5 L41.5,563.5" stroke="#3a3230" stroke-width="0.9" fill="none"/>
<path d="M54.5,563.5 L54.5,574.5 L73.5,574.5 L73.5,674.5" stroke="#3a3230" stroke-width="0.9" fill="none"/>
<path d="M41.5,563.5 L44.5,563.5" stroke="#3a3230" stroke-width="0.9" fill="none"/>
<path d="M44.5,563.5 L46.5,560.5" stroke="#3a3230" stroke-width="0.9" fill="none"/>
<path d="M49.5,560.5 L51.5,563.5" stroke="#3a3230" stroke-width="0.9" fill="none"/>
<path d="M51.5,563.5 L54.5,563.5" stroke="#3a3230" stroke-width="0.9" fill="none"/>
<path d="M43.5,560.5 L51.5,560.5" stroke="#3a3230" stroke-width="0.9" fill="none"/>
<path d="M32.5,611.5 L49.5,611.5" stroke="#3a3230" stroke-width="1.2" fill="none"/>
<path d="M37.5,611.5 L32.5,618.5 L20.5,618.5 L20.5,639.5" stroke="#3a3230" stroke-width="0.9" fill="none"/>
<path d="M32,618.7 L33.03,615.13 L35.33,617.06 Z" stroke="#3a3230" stroke-width="0.5" fill="#3a3230"/>
<path d="M43.5,611.5 L49.5,618.5 L73.5,618.5" stroke="#3a3230" stroke-width="0.9" fill="none"/>
<circle cx="73.5" cy="618.5" r="1.65" fill="#3a3230"/>
<circle cx="20.5" cy="639.5" r="1.65" fill="#3a3230"/>
<text transform="translate(42.2,608.9) scale(0.82,1)" font-size="7" text-anchor="start" fill="#2b2421" font-family="Liberation Serif" text-rendering="geometricPrecision" stroke="#2b2421" stroke-width="0.12">Q1</text>
<rect x="49" y="603" width="1.2" height="1.2" fill="#4e4644" opacity="0.8"/>
<text transform="translate(34.9,623) scale(0.82,1)" font-size="7" text-anchor="start" fill="#2b2421" font-family="Liberation Serif" text-rendering="geometricPrecision" stroke="#2b2421" stroke-width="0.12">9013</text>
<circle cx="63.5" cy="596.5" r="0.5" fill="#3a3230"/>
<circle cx="73.5" cy="677.6" r="3.3" stroke="#3a3230" stroke-width="1.0" fill="#fff"/>
<path d="M70.86,680.24 L76.14,674.96" stroke="#3a3230" stroke-width="1" fill="none"/>
<text transform="translate(63,691.5) scale(0.82,1)" font-size="10.7" text-anchor="start" fill="#2b2421" font-family="Liberation Serif" text-rendering="geometricPrecision" stroke="#2b2421" stroke-width="0.15">OUT1-</text>
<path d="M123.5,611.5 L123.5,563.5" stroke="#3a3230" stroke-width="0.9" fill="none"/>
<path d="M136.5,563.5 L136.5,574.5 L155.5,574.5 L155.5,674.5" stroke="#3a3230" stroke-width="0.9" fill="none"/>
<path d="M123.5,563.5 L126.5,563.5" stroke="#3a3230" stroke-width="0.9" fill="none"/>
<path d="M126.5,563.5 L128.5,560.5" stroke="#3a3230" stroke-width="0.9" fill="none"/>
<path d="M131.5,560.5 L133.5,563.5" stroke="#3a3230" stroke-width="0.9" fill="none"/>
<path d="M133.5,563.5 L136.5,563.5" stroke="#3a3230" stroke-width="0.9" fill="none"/>
<path d="M125.5,560.5 L133.5,560.5" stroke="#3a3230" stroke-width="0.9" fill="none"/>
<path d="M114.5,611.5 L131.5,611.5" stroke="#3a3230" stroke-width="1.2" fill="none"/>
<path d="M119.5,611.5 L114.5,618.5 L102.5,618.5 L102.5,639.5" stroke="#3a3230" stroke-width="0.9" fill="none"/>
<path d="M114.05,618.7 L115.08,615.13 L117.38,617.06 Z" stroke="#3a3230" stroke-width="0.5" fill="#3a3230"/>
<path d="M125.5,611.5 L131.5,618.5 L155.5,618.5" stroke="#3a3230" stroke-width="0.9" fill="none"/>
<circle cx="155.5" cy="618.5" r="1.65" fill="#3a3230"/>
<circle cx="102.5" cy="639.5" r="1.65" fill="#3a3230"/>
<text transform="translate(124.25,608.9) scale(0.82,1)" font-size="7" text-anchor="start" fill="#2b2421" font-family="Liberation Serif" text-rendering="geometricPrecision" stroke="#2b2421" stroke-width="0.12">Q2</text>
<rect x="131.05" y="603" width="1.2" height="1.2" fill="#4e4644" opacity="0.8"/>
<text transform="translate(116.95,623) scale(0.82,1)" font-size="7" text-anchor="start" fill="#2b2421" font-family="Liberation Serif" text-rendering="geometricPrecision" stroke="#2b2421" stroke-width="0.12">9013</text>
<circle cx="145.5" cy="596.5" r="0.5" fill="#3a3230"/>
<circle cx="155.5" cy="677.6" r="3.3" stroke="#3a3230" stroke-width="1.0" fill="#fff"/>
<path d="M152.86,680.24 L158.14,674.96" stroke="#3a3230" stroke-width="1" fill="none"/>
<text transform="translate(145.05,691.5) scale(0.82,1)" font-size="10.7" text-anchor="start" fill="#2b2421" font-family="Liberation Serif" text-rendering="geometricPrecision" stroke="#2b2421" stroke-width="0.15">OUT2-</text>
<path d="M205.5,611.5 L205.5,563.5" stroke="#3a3230" stroke-width="0.9" fill="none"/>
<path d="M218.5,563.5 L218.5,574.5 L237.5,574.5 L237.5,674.5" stroke="#3a3230" stroke-width="0.9" fill="none"/>
<path d="M205.5,563.5 L208.5,563.5" stroke="#3a3230" stroke-width="0.9" fill="none"/>
<path d="M208.5,563.5 L210.5,560.5" stroke="#3a3230" stroke-width="0.9" fill="none"/>
<path d="M213.5,560.5 L215.5,563.5" stroke="#3a3230" stroke-width="0.9" fill="none"/>
<path d="M215.5,563.5 L218.5,563.5" stroke="#3a3230" stroke-width="0.9" fill="none"/>
<path d="M208.5,560.5 L216.5,560.5" stroke="#3a3230" stroke-width="0.9" fill="none"/>
<path d="M196.5,611.5 L213.5,611.5" stroke="#3a3230" stroke-width="1.2" fill="none"/>
<path d="M201.5,611.5 L196.5,618.5 L184.5,618.5 L184.5,639.5" stroke="#3a3230" stroke-width="0.9" fill="none"/>
<path d="M196.1,618.7 L197.13,615.13 L199.43,617.06 Z" stroke="#3a3230" stroke-width="0.5" fill="#3a3230"/>
<path d="M207.5,611.5 L213.5,618.5 L237.5,618.5" stroke="#3a3230" stroke-width="0.9" fill="none"/>
<circle cx="237.5" cy="618.5" r="1.65" fill="#3a3230"/>
<circle cx="184.5" cy="639.5" r="1.65" fill="#3a3230"/>
<text transform="translate(206.3,608.9) scale(0.82,1)" font-size="7" text-anchor="start" fill="#2b2421" font-family="Liberation Serif" text-rendering="geometricPrecision" stroke="#2b2421" stroke-width="0.12">Q3</text>
<rect x="213.1" y="603" width="1.2" height="1.2" fill="#4e4644" opacity="0.8"/>
<text transform="translate(199,623) scale(0.82,1)" font-size="7" text-anchor="start" fill="#2b2421" font-family="Liberation Serif" text-rendering="geometricPrecision" stroke="#2b2421" stroke-width="0.12">9013</text>
<circle cx="227.5" cy="596.5" r="0.5" fill="#3a3230"/>
<circle cx="237.5" cy="677.6" r="3.3" stroke="#3a3230" stroke-width="1.0" fill="#fff"/>
<path d="M234.86,680.24 L240.14,674.96" stroke="#3a3230" stroke-width="1" fill="none"/>
<text transform="translate(227.1,691.5) scale(0.82,1)" font-size="10.7" text-anchor="start" fill="#2b2421" font-family="Liberation Serif" text-rendering="geometricPrecision" stroke="#2b2421" stroke-width="0.15">OUT3-</text>
<path d="M287.5,611.5 L287.5,563.5" stroke="#3a3230" stroke-width="0.9" fill="none"/>
<path d="M300.5,563.5 L300.5,574.5 L319.5,574.5 L319.5,674.5" stroke="#3a3230" stroke-width="0.9" fill="none"/>
<path d="M287.5,563.5 L290.5,563.5" stroke="#3a3230" stroke-width="0.9" fill="none"/>
<path d="M290.5,563.5 L292.5,560.5" stroke="#3a3230" stroke-width="0.9" fill="none"/>
<path d="M295.5,560.5 L297.5,563.5" stroke="#3a3230" stroke-width="0.9" fill="none"/>
<path d="M297.5,563.5 L300.5,563.5" stroke="#3a3230" stroke-width="0.9" fill="none"/>
<path d="M290.5,560.5 L298.5,560.5" stroke="#3a3230" stroke-width="0.9" fill="none"/>
<path d="M278.5,611.5 L295.5,611.5" stroke="#3a3230" stroke-width="1.2" fill="none"/>
<path d="M283.5,611.5 L278.5,618.5 L266.5,618.5 L266.5,639.5" stroke="#3a3230" stroke-width="0.9" fill="none"/>
<path d="M278.15,618.7 L279.18,615.13 L281.48,617.06 Z" stroke="#3a3230" stroke-width="0.5" fill="#3a3230"/>
<path d="M289.5,611.5 L295.5,618.5 L319.5,618.5" stroke="#3a3230" stroke-width="0.9" fill="none"/>
<circle cx="319.5" cy="618.5" r="1.65" fill="#3a3230"/>
<text transform="translate(288.35,608.9) scale(0.82,1)" font-size="7" text-anchor="start" fill="#2b2421" font-family="Liberation Serif" text-rendering="geometricPrecision" stroke="#2b2421" stroke-width="0.12">Q4</text>
<rect x="295.15" y="603" width="1.2" height="1.2" fill="#4e4644" opacity="0.8"/>
<text transform="translate(281.05,623) scale(0.82,1)" font-size="7" text-anchor="start" fill="#2b2421" font-family="Liberation Serif" text-rendering="geometricPrecision" stroke="#2b2421" stroke-width="0.12">9013</text>
<circle cx="309.5" cy="596.5" r="0.5" fill="#3a3230"/>
<circle cx="319.5" cy="677.6" r="3.3" stroke="#3a3230" stroke-width="1.0" fill="#fff"/>
<path d="M316.86,680.24 L322.14,674.96" stroke="#3a3230" stroke-width="1" fill="none"/>
<text transform="translate(309.15,691.5) scale(0.82,1)" font-size="10.7" text-anchor="start" fill="#2b2421" font-family="Liberation Serif" text-rendering="geometricPrecision" stroke="#2b2421" stroke-width="0.15">OUT4-</text>
<path d="M20.5,674.5 L20.5,639.5 L266.5,639.5" stroke="#3a3230" stroke-width="0.9" fill="none"/>
<circle cx="20.5" cy="677.6" r="3.3" stroke="#3a3230" stroke-width="1.0" fill="#fff"/>
<path d="M17.86,680.24 L23.14,674.96" stroke="#3a3230" stroke-width="1" fill="none"/>
<text transform="translate(8.5,691.5) scale(0.82,1)" font-size="10.7" text-anchor="start" fill="#2b2421" font-family="Liberation Serif" text-rendering="geometricPrecision" stroke="#2b2421" stroke-width="0.15">COM-</text>
<circle cx="646.5" cy="448.4" r="3.3" stroke="#3a3230" stroke-width="1.0" fill="#fff"/>
<path d="M643.86,451.04 L649.14,445.76" stroke="#3a3230" stroke-width="1" fill="none"/>
<text transform="translate(638.8,442.7) scale(0.82,1)" font-size="10.7" text-anchor="start" fill="#2b2421" font-family="Liberation Serif" text-rendering="geometricPrecision" stroke="#2b2421" stroke-width="0.15">IN1+</text>
<path d="M646.5,451.5 L646.5,511.5" stroke="#3a3230" stroke-width="0.9" fill="none"/>
<rect x="643.5" y="511.5" width="6" height="14" stroke="#3a3230" stroke-width="0.9" fill="none"/>
<path d="M646.5,525.5 L646.5,535.5 L627.5,535.5 L627.5,548.5 L624.5,548.5" stroke="#3a3230" stroke-width="0.9" fill="none"/>
<path d="M596.5,475.5 L596.5,535.5 L614.5,535.5 L614.5,548.5 L617.5,548.5" stroke="#3a3230" stroke-width="0.9" fill="none"/>
<path d="M596.5,494.5 L603.5,494.5" stroke="#3a3230" stroke-width="0.9" fill="none"/>
<path d="M610.5,487.5 L610.5,501.5 L603.5,494.5 Z" stroke="#3a3230" stroke-width="0.9" fill="none"/>
<path d="M603.5,487.5 L603.5,501.5" stroke="#3a3230" stroke-width="0.9" fill="none"/>
<path d="M610.5,494.5 L626.5,494.5" stroke="#3a3230" stroke-width="0.9" fill="none"/>
<rect x="626.5" y="491.5" width="13" height="6" stroke="#3a3230" stroke-width="0.9" fill="none"/>
<path d="M639.5,494.5 L646.5,494.5" stroke="#3a3230" stroke-width="0.9" fill="none"/>
<circle cx="596.5" cy="494.5" r="1.65" fill="#3a3230"/>
<circle cx="646.5" cy="494.5" r="1.65" fill="#3a3230"/>
<path d="M600.9,501.2 L596.5,506" stroke="#3a3230" stroke-width="0.8" fill="none"/>
<path d="M596.5,506 L597.25,503.7 L598.72,505.05 Z" stroke="#3a3230" stroke-width="0.5" fill="#3a3230"/>
<path d="M603.8,504.1 L599.4,508.9" stroke="#3a3230" stroke-width="0.8" fill="none"/>
<path d="M599.4,508.9 L600.15,506.6 L601.62,507.95 Z" stroke="#3a3230" stroke-width="0.5" fill="#3a3230"/>
<text transform="translate(606.4,485.1) scale(0.82,1)" font-size="7" text-anchor="middle" fill="#2b2421" font-family="Liberation Serif" text-rendering="geometricPrecision" stroke="#2b2421" stroke-width="0.12">LED1</text>
<text transform="translate(633.3,491) scale(0.82,1)" font-size="7" text-anchor="middle" fill="#2b2421" font-family="Liberation Serif" text-rendering="geometricPrecision" stroke="#2b2421" stroke-width="0.12">R1</text>
<text transform="translate(650,525.3) scale(0.82,1)" font-size="7" text-anchor="start" fill="#2b2421" font-family="Liberation Serif" text-rendering="geometricPrecision" stroke="#2b2421" stroke-width="0.12">RR1</text>
<rect x="607.5" y="538.5" width="27" height="34" stroke="#3a3230" stroke-width="0.9" fill="none"/>
<path d="M624.5,545.5 L624.5,552.5 L617.5,548.5 Z" stroke="#3a3230" stroke-width="0.8" fill="none"/>
<path d="M617.5,545.5 L617.5,552.5" stroke="#3a3230" stroke-width="0.8" fill="none"/>
<text transform="translate(635.5,544.2) scale(0.82,1)" font-size="7" text-anchor="start" fill="#2b2421" font-family="Liberation Serif" text-rendering="geometricPrecision" stroke="#2b2421" stroke-width="0.12">U1</text>
<rect x="608.5" y="534.5" width="3" height="1.4" fill="#4e4644" opacity="0.8"/>
<rect x="622.1" y="534.9" width="3" height="1" fill="#4e4644" opacity="0.8"/>
<rect x="608.1" y="575.9" width="3" height="1" fill="#4e4644" opacity="0.8"/>
<rect x="622.5" y="575.9" width="3" height="1" fill="#4e4644" opacity="0.8"/>
<text transform="translate(635.5,551) scale(0.82,1)" font-size="7" text-anchor="start" fill="#2b2421" font-family="Liberation Serif" text-rendering="geometricPrecision" stroke="#2b2421" stroke-width="0.12">PC817</text>
<circle cx="596.5" cy="475.5" r="1.65" fill="#3a3230"/>
<circle cx="728.5" cy="448.4" r="3.3" stroke="#3a3230" stroke-width="1.0" fill="#fff"/>
<path d="M725.86,451.04 L731.14,445.76" stroke="#3a3230" stroke-width="1" fill="none"/>
<text transform="translate(720.8,442.7) scale(0.82,1)" font-size="10.7" text-anchor="start" fill="#2b2421" font-family="Liberation Serif" text-rendering="geometricPrecision" stroke="#2b2421" stroke-width="0.15">IN2+</text>
<path d="M728.5,451.5 L728.5,511.5" stroke="#3a3230" stroke-width="0.9" fill="none"/>
<rect x="725.5" y="511.5" width="6" height="14" stroke="#3a3230" stroke-width="0.9" fill="none"/>
<path d="M728.5,525.5 L728.5,535.5 L709.5,535.5 L709.5,548.5 L706.5,548.5" stroke="#3a3230" stroke-width="0.9" fill="none"/>
<path d="M678.5,475.5 L678.5,535.5 L696.5,535.5 L696.5,548.5 L699.5,548.5" stroke="#3a3230" stroke-width="0.9" fill="none"/>
<path d="M678.5,494.5 L685.5,494.5" stroke="#3a3230" stroke-width="0.9" fill="none"/>
<path d="M692.5,487.5 L692.5,501.5 L685.5,494.5 Z" stroke="#3a3230" stroke-width="0.9" fill="none"/>
<path d="M685.5,487.5 L685.5,501.5" stroke="#3a3230" stroke-width="0.9" fill="none"/>
<path d="M692.5,494.5 L708.5,494.5" stroke="#3a3230" stroke-width="0.9" fill="none"/>
<rect x="708.5" y="491.5" width="13" height="6" stroke="#3a3230" stroke-width="0.9" fill="none"/>
<path d="M721.5,494.5 L728.5,494.5" stroke="#3a3230" stroke-width="0.9" fill="none"/>
<circle cx="678.5" cy="494.5" r="1.65" fill="#3a3230"/>
<circle cx="728.5" cy="494.5" r="1.65" fill="#3a3230"/>
<path d="M682.9,501.2 L678.5,506" stroke="#3a3230" stroke-width="0.8" fill="none"/>
<path d="M678.5,506 L679.25,503.7 L680.72,505.05 Z" stroke="#3a3230" stroke-width="0.5" fill="#3a3230"/>
<path d="M685.8,504.1 L681.4,508.9" stroke="#3a3230" stroke-width="0.8" fill="none"/>
<path d="M681.4,508.9 L682.15,506.6 L683.62,507.95 Z" stroke="#3a3230" stroke-width="0.5" fill="#3a3230"/>
<text transform="translate(688.4,485.1) scale(0.82,1)" font-size="7" text-anchor="middle" fill="#2b2421" font-family="Liberation Serif" text-rendering="geometricPrecision" stroke="#2b2421" stroke-width="0.12">LED2</text>
<text transform="translate(715.3,491) scale(0.82,1)" font-size="7" text-anchor="middle" fill="#2b2421" font-family="Liberation Serif" text-rendering="geometricPrecision" stroke="#2b2421" stroke-width="0.12">R2</text>
<text transform="translate(732,525.3) scale(0.82,1)" font-size="7" text-anchor="start" fill="#2b2421" font-family="Liberation Serif" text-rendering="geometricPrecision" stroke="#2b2421" stroke-width="0.12">RR2</text>
<rect x="689.5" y="538.5" width="27" height="34" stroke="#3a3230" stroke-width="0.9" fill="none"/>
<path d="M706.5,545.5 L706.5,552.5 L699.5,548.5 Z" stroke="#3a3230" stroke-width="0.8" fill="none"/>
<path d="M699.5,545.5 L699.5,552.5" stroke="#3a3230" stroke-width="0.8" fill="none"/>
<text transform="translate(717.5,544.2) scale(0.82,1)" font-size="7" text-anchor="start" fill="#2b2421" font-family="Liberation Serif" text-rendering="geometricPrecision" stroke="#2b2421" stroke-width="0.12">U2</text>
<rect x="690.5" y="534.5" width="3" height="1.4" fill="#4e4644" opacity="0.8"/>
<rect x="704.1" y="534.9" width="3" height="1" fill="#4e4644" opacity="0.8"/>
<rect x="690.1" y="575.9" width="3" height="1" fill="#4e4644" opacity="0.8"/>
<rect x="704.5" y="575.9" width="3" height="1" fill="#4e4644" opacity="0.8"/>
<text transform="translate(717.5,551) scale(0.82,1)" font-size="7" text-anchor="start" fill="#2b2421" font-family="Liberation Serif" text-rendering="geometricPrecision" stroke="#2b2421" stroke-width="0.12">PC817</text>
<circle cx="678.5" cy="475.5" r="1.65" fill="#3a3230"/>
<circle cx="810.5" cy="448.4" r="3.3" stroke="#3a3230" stroke-width="1.0" fill="#fff"/>
<path d="M807.86,451.04 L813.14,445.76" stroke="#3a3230" stroke-width="1" fill="none"/>
<text transform="translate(802.8,442.7) scale(0.82,1)" font-size="10.7" text-anchor="start" fill="#2b2421" font-family="Liberation Serif" text-rendering="geometricPrecision" stroke="#2b2421" stroke-width="0.15">IN3+</text>
<path d="M810.5,451.5 L810.5,511.5" stroke="#3a3230" stroke-width="0.9" fill="none"/>
<rect x="807.5" y="511.5" width="6" height="14" stroke="#3a3230" stroke-width="0.9" fill="none"/>
<path d="M810.5,525.5 L810.5,535.5 L791.5,535.5 L791.5,548.5 L788.5,548.5" stroke="#3a3230" stroke-width="0.9" fill="none"/>
<path d="M760.5,475.5 L760.5,535.5 L778.5,535.5 L778.5,548.5 L781.5,548.5" stroke="#3a3230" stroke-width="0.9" fill="none"/>
<path d="M760.5,494.5 L767.5,494.5" stroke="#3a3230" stroke-width="0.9" fill="none"/>
<path d="M774.5,487.5 L774.5,501.5 L767.5,494.5 Z" stroke="#3a3230" stroke-width="0.9" fill="none"/>
<path d="M767.5,487.5 L767.5,501.5" stroke="#3a3230" stroke-width="0.9" fill="none"/>
<path d="M774.5,494.5 L790.5,494.5" stroke="#3a3230" stroke-width="0.9" fill="none"/>
<rect x="790.5" y="491.5" width="13" height="6" stroke="#3a3230" stroke-width="0.9" fill="none"/>
<path d="M803.5,494.5 L810.5,494.5" stroke="#3a3230" stroke-width="0.9" fill="none"/>
<circle cx="760.5" cy="494.5" r="1.65" fill="#3a3230"/>
<circle cx="810.5" cy="494.5" r="1.65" fill="#3a3230"/>
<path d="M764.9,501.2 L760.5,506" stroke="#3a3230" stroke-width="0.8" fill="none"/>
<path d="M760.5,506 L761.25,503.7 L762.72,505.05 Z" stroke="#3a3230" stroke-width="0.5" fill="#3a3230"/>
<path d="M767.8,504.1 L763.4,508.9" stroke="#3a3230" stroke-width="0.8" fill="none"/>
<path d="M763.4,508.9 L764.15,506.6 L765.62,507.95 Z" stroke="#3a3230" stroke-width="0.5" fill="#3a3230"/>
<text transform="translate(770.4,485.1) scale(0.82,1)" font-size="7" text-anchor="middle" fill="#2b2421" font-family="Liberation Serif" text-rendering="geometricPrecision" stroke="#2b2421" stroke-width="0.12">LED3</text>
<text transform="translate(797.3,491) scale(0.82,1)" font-size="7" text-anchor="middle" fill="#2b2421" font-family="Liberation Serif" text-rendering="geometricPrecision" stroke="#2b2421" stroke-width="0.12">R3</text>
<text transform="translate(814,525.3) scale(0.82,1)" font-size="7" text-anchor="start" fill="#2b2421" font-family="Liberation Serif" text-rendering="geometricPrecision" stroke="#2b2421" stroke-width="0.12">RR3</text>
<rect x="771.5" y="538.5" width="27" height="34" stroke="#3a3230" stroke-width="0.9" fill="none"/>
<path d="M788.5,545.5 L788.5,552.5 L781.5,548.5 Z" stroke="#3a3230" stroke-width="0.8" fill="none"/>
<path d="M781.5,545.5 L781.5,552.5" stroke="#3a3230" stroke-width="0.8" fill="none"/>
<text transform="translate(799.5,544.2) scale(0.82,1)" font-size="7" text-anchor="start" fill="#2b2421" font-family="Liberation Serif" text-rendering="geometricPrecision" stroke="#2b2421" stroke-width="0.12">U3</text>
<rect x="772.5" y="534.5" width="3" height="1.4" fill="#4e4644" opacity="0.8"/>
<rect x="786.1" y="534.9" width="3" height="1" fill="#4e4644" opacity="0.8"/>
<rect x="772.1" y="575.9" width="3" height="1" fill="#4e4644" opacity="0.8"/>
<rect x="786.5" y="575.9" width="3" height="1" fill="#4e4644" opacity="0.8"/>
<text transform="translate(799.5,551) scale(0.82,1)" font-size="7" text-anchor="start" fill="#2b2421" font-family="Liberation Serif" text-rendering="geometricPrecision" stroke="#2b2421" stroke-width="0.12">PC817</text>
<circle cx="760.5" cy="475.5" r="1.65" fill="#3a3230"/>
<circle cx="892.5" cy="448.4" r="3.3" stroke="#3a3230" stroke-width="1.0" fill="#fff"/>
<path d="M889.86,451.04 L895.14,445.76" stroke="#3a3230" stroke-width="1" fill="none"/>
<text transform="translate(884.8,442.7) scale(0.82,1)" font-size="10.7" text-anchor="start" fill="#2b2421" font-family="Liberation Serif" text-rendering="geometricPrecision" stroke="#2b2421" stroke-width="0.15">IN4+</text>
<path d="M892.5,451.5 L892.5,511.5" stroke="#3a3230" stroke-width="0.9" fill="none"/>
<rect x="889.5" y="511.5" width="6" height="14" stroke="#3a3230" stroke-width="0.9" fill="none"/>
<path d="M892.5,525.5 L892.5,535.5 L873.5,535.5 L873.5,548.5 L870.5,548.5" stroke="#3a3230" stroke-width="0.9" fill="none"/>
<path d="M842.5,475.5 L842.5,535.5 L860.5,535.5 L860.5,548.5 L863.5,548.5" stroke="#3a3230" stroke-width="0.9" fill="none"/>
<path d="M842.5,494.5 L849.5,494.5" stroke="#3a3230" stroke-width="0.9" fill="none"/>
<path d="M856.5,487.5 L856.5,501.5 L849.5,494.5 Z" stroke="#3a3230" stroke-width="0.9" fill="none"/>
<path d="M849.5,487.5 L849.5,501.5" stroke="#3a3230" stroke-width="0.9" fill="none"/>
<path d="M856.5,494.5 L872.5,494.5" stroke="#3a3230" stroke-width="0.9" fill="none"/>
<rect x="872.5" y="491.5" width="13" height="6" stroke="#3a3230" stroke-width="0.9" fill="none"/>
<path d="M885.5,494.5 L892.5,494.5" stroke="#3a3230" stroke-width="0.9" fill="none"/>
<circle cx="842.5" cy="494.5" r="1.65" fill="#3a3230"/>
<circle cx="892.5" cy="494.5" r="1.65" fill="#3a3230"/>
<path d="M846.9,501.2 L842.5,506" stroke="#3a3230" stroke-width="0.8" fill="none"/>
<path d="M842.5,506 L843.25,503.7 L844.72,505.05 Z" stroke="#3a3230" stroke-width="0.5" fill="#3a3230"/>
<path d="M849.8,504.1 L845.4,508.9" stroke="#3a3230" stroke-width="0.8" fill="none"/>
<path d="M845.4,508.9 L846.15,506.6 L847.62,507.95 Z" stroke="#3a3230" stroke-width="0.5" fill="#3a3230"/>
<text transform="translate(852.4,485.1) scale(0.82,1)" font-size="7" text-anchor="middle" fill="#2b2421" font-family="Liberation Serif" text-rendering="geometricPrecision" stroke="#2b2421" stroke-width="0.12">LED4</text>
<text transform="translate(879.3,491) scale(0.82,1)" font-size="7" text-anchor="middle" fill="#2b2421" font-family="Liberation Serif" text-rendering="geometricPrecision" stroke="#2b2421" stroke-width="0.12">R4</text>
<text transform="translate(896,525.3) scale(0.82,1)" font-size="7" text-anchor="start" fill="#2b2421" font-family="Liberation Serif" text-rendering="geometricPrecision" stroke="#2b2421" stroke-width="0.12">RR4</text>
<rect x="853.5" y="538.5" width="27" height="34" stroke="#3a3230" stroke-width="0.9" fill="none"/>
<path d="M870.5,545.5 L870.5,552.5 L863.5,548.5 Z" stroke="#3a3230" stroke-width="0.8" fill="none"/>
<path d="M863.5,545.5 L863.5,552.5" stroke="#3a3230" stroke-width="0.8" fill="none"/>
<text transform="translate(881.5,544.2) scale(0.82,1)" font-size="7" text-anchor="start" fill="#2b2421" font-family="Liberation Serif" text-rendering="geometricPrecision" stroke="#2b2421" stroke-width="0.12">U4</text>
<rect x="854.5" y="534.5" width="3" height="1.4" fill="#4e4644" opacity="0.8"/>
<rect x="868.1" y="534.9" width="3" height="1" fill="#4e4644" opacity="0.8"/>
<rect x="854.1" y="575.9" width="3" height="1" fill="#4e4644" opacity="0.8"/>
<rect x="868.5" y="575.9" width="3" height="1" fill="#4e4644" opacity="0.8"/>
<text transform="translate(881.5,551) scale(0.82,1)" font-size="7" text-anchor="start" fill="#2b2421" font-family="Liberation Serif" text-rendering="geometricPrecision" stroke="#2b2421" stroke-width="0.12">PC817</text>
<path d="M596.5,451.5 L596.5,475.5 L842.5,475.5" stroke="#3a3230" stroke-width="0.9" fill="none"/>
<circle cx="596.5" cy="448.4" r="3.3" stroke="#3a3230" stroke-width="1.0" fill="#fff"/>
<path d="M593.86,451.04 L599.14,445.76" stroke="#3a3230" stroke-width="1" fill="none"/>
<text transform="translate(586.8,442.7) scale(0.82,1)" font-size="10.7" text-anchor="start" fill="#2b2421" font-family="Liberation Serif" text-rendering="geometricPrecision" stroke="#2b2421" stroke-width="0.15">COM-</text>
<path d="M614.5,613.5 L614.5,565.5" stroke="#3a3230" stroke-width="0.9" fill="none"/>
<path d="M627.5,565.5 L627.5,586.5" stroke="#3a3230" stroke-width="0.9" fill="none"/>
<path d="M614.5,565.5 L617.5,565.5" stroke="#3a3230" stroke-width="0.9" fill="none"/>
<path d="M617.5,565.5 L619.5,562.5" stroke="#3a3230" stroke-width="0.9" fill="none"/>
<path d="M622.5,562.5 L624.5,565.5" stroke="#3a3230" stroke-width="0.9" fill="none"/>
<path d="M624.5,565.5 L627.5,565.5" stroke="#3a3230" stroke-width="0.9" fill="none"/>
<path d="M616.5,562.5 L624.5,562.5" stroke="#3a3230" stroke-width="0.9" fill="none"/>
<circle cx="627.5" cy="586.5" r="1.65" fill="#3a3230"/>
<path d="M593.5,586.5 L593.5,620.5 L605.5,620.5 L611.5,613.5" stroke="#3a3230" stroke-width="0.9" fill="none"/>
<path d="M605.5,613.5 L622.5,613.5" stroke="#3a3230" stroke-width="1.2" fill="none"/>
<path d="M617.5,613.5 L622.5,620.5 L647.5,620.5 L647.5,675.5" stroke="#3a3230" stroke-width="0.9" fill="none"/>
<path d="M622.8,620.1 L619.47,618.45 L621.77,616.53 Z" stroke="#3a3230" stroke-width="0.5" fill="#3a3230"/>
<text transform="translate(606.5,610) scale(0.82,1)" font-size="7" text-anchor="start" fill="#2b2421" font-family="Liberation Serif" text-rendering="geometricPrecision" stroke="#2b2421" stroke-width="0.12">Q1</text>
<rect x="591.2" y="597.8" width="1.4" height="1.2" fill="#4e4644" opacity="0.8"/>
<rect x="605.7" y="603.6" width="1.2" height="1.2" fill="#4e4644" opacity="0.8"/>
<text transform="translate(608.7,624.7) scale(0.82,1)" font-size="7" text-anchor="start" fill="#2b2421" font-family="Liberation Serif" text-rendering="geometricPrecision" stroke="#2b2421" stroke-width="0.12">9013</text>
<circle cx="646.5" cy="678.9" r="3.3" stroke="#3a3230" stroke-width="1.0" fill="#fff"/>
<path d="M643.86,681.54 L649.14,676.26" stroke="#3a3230" stroke-width="1" fill="none"/>
<text transform="translate(635.9,692.5) scale(0.82,1)" font-size="10.7" text-anchor="start" fill="#2b2421" font-family="Liberation Serif" text-rendering="geometricPrecision" stroke="#2b2421" stroke-width="0.15">OUT1+</text>
<path d="M696.5,613.5 L696.5,565.5" stroke="#3a3230" stroke-width="0.9" fill="none"/>
<path d="M709.5,565.5 L709.5,586.5" stroke="#3a3230" stroke-width="0.9" fill="none"/>
<path d="M696.5,565.5 L699.5,565.5" stroke="#3a3230" stroke-width="0.9" fill="none"/>
<path d="M699.5,565.5 L701.5,562.5" stroke="#3a3230" stroke-width="0.9" fill="none"/>
<path d="M704.5,562.5 L706.5,565.5" stroke="#3a3230" stroke-width="0.9" fill="none"/>
<path d="M706.5,565.5 L709.5,565.5" stroke="#3a3230" stroke-width="0.9" fill="none"/>
<path d="M698.5,562.5 L706.5,562.5" stroke="#3a3230" stroke-width="0.9" fill="none"/>
<circle cx="675.5" cy="586.5" r="1.65" fill="#3a3230"/>
<circle cx="709.5" cy="586.5" r="1.65" fill="#3a3230"/>
<path d="M675.5,586.5 L675.5,620.5 L687.5,620.5 L693.5,613.5" stroke="#3a3230" stroke-width="0.9" fill="none"/>
<path d="M687.5,613.5 L704.5,613.5" stroke="#3a3230" stroke-width="1.2" fill="none"/>
<path d="M699.5,613.5 L704.5,620.5 L729.5,620.5 L729.5,675.5" stroke="#3a3230" stroke-width="0.9" fill="none"/>
<path d="M704.8,620.1 L701.47,618.45 L703.77,616.53 Z" stroke="#3a3230" stroke-width="0.5" fill="#3a3230"/>
<text transform="translate(688.5,610) scale(0.82,1)" font-size="7" text-anchor="start" fill="#2b2421" font-family="Liberation Serif" text-rendering="geometricPrecision" stroke="#2b2421" stroke-width="0.12">Q2</text>
<rect x="673.2" y="597.8" width="1.4" height="1.2" fill="#4e4644" opacity="0.8"/>
<rect x="687.7" y="603.6" width="1.2" height="1.2" fill="#4e4644" opacity="0.8"/>
<text transform="translate(690.7,624.7) scale(0.82,1)" font-size="7" text-anchor="start" fill="#2b2421" font-family="Liberation Serif" text-rendering="geometricPrecision" stroke="#2b2421" stroke-width="0.12">9013</text>
<circle cx="728.5" cy="678.9" r="3.3" stroke="#3a3230" stroke-width="1.0" fill="#fff"/>
<path d="M725.86,681.54 L731.14,676.26" stroke="#3a3230" stroke-width="1" fill="none"/>
<text transform="translate(717.9,692.5) scale(0.82,1)" font-size="10.7" text-anchor="start" fill="#2b2421" font-family="Liberation Serif" text-rendering="geometricPrecision" stroke="#2b2421" stroke-width="0.15">OUT2+</text>
<path d="M778.5,613.5 L778.5,565.5" stroke="#3a3230" stroke-width="0.9" fill="none"/>
<path d="M791.5,565.5 L791.5,586.5" stroke="#3a3230" stroke-width="0.9" fill="none"/>
<path d="M778.5,565.5 L781.5,565.5" stroke="#3a3230" stroke-width="0.9" fill="none"/>
<path d="M781.5,565.5 L783.5,562.5" stroke="#3a3230" stroke-width="0.9" fill="none"/>
<path d="M786.5,562.5 L788.5,565.5" stroke="#3a3230" stroke-width="0.9" fill="none"/>
<path d="M788.5,565.5 L791.5,565.5" stroke="#3a3230" stroke-width="0.9" fill="none"/>
<path d="M780.5,562.5 L788.5,562.5" stroke="#3a3230" stroke-width="0.9" fill="none"/>
<circle cx="757.5" cy="586.5" r="1.65" fill="#3a3230"/>
<circle cx="791.5" cy="586.5" r="1.65" fill="#3a3230"/>
<path d="M757.5,586.5 L757.5,620.5 L769.5,620.5 L775.5,613.5" stroke="#3a3230" stroke-width="0.9" fill="none"/>
<path d="M769.5,613.5 L786.5,613.5" stroke="#3a3230" stroke-width="1.2" fill="none"/>
<path d="M781.5,613.5 L786.5,620.5 L811.5,620.5 L811.5,675.5" stroke="#3a3230" stroke-width="0.9" fill="none"/>
<path d="M786.8,620.1 L783.47,618.45 L785.77,616.53 Z" stroke="#3a3230" stroke-width="0.5" fill="#3a3230"/>
<text transform="translate(770.5,610) scale(0.82,1)" font-size="7" text-anchor="start" fill="#2b2421" font-family="Liberation Serif" text-rendering="geometricPrecision" stroke="#2b2421" stroke-width="0.12">Q3</text>
<rect x="755.2" y="597.8" width="1.4" height="1.2" fill="#4e4644" opacity="0.8"/>
<rect x="769.7" y="603.6" width="1.2" height="1.2" fill="#4e4644" opacity="0.8"/>
<text transform="translate(772.7,624.7) scale(0.82,1)" font-size="7" text-anchor="start" fill="#2b2421" font-family="Liberation Serif" text-rendering="geometricPrecision" stroke="#2b2421" stroke-width="0.12">9013</text>
<circle cx="810.5" cy="678.9" r="3.3" stroke="#3a3230" stroke-width="1.0" fill="#fff"/>
<path d="M807.86,681.54 L813.14,676.26" stroke="#3a3230" stroke-width="1" fill="none"/>
<text transform="translate(799.9,692.5) scale(0.82,1)" font-size="10.7" text-anchor="start" fill="#2b2421" font-family="Liberation Serif" text-rendering="geometricPrecision" stroke="#2b2421" stroke-width="0.15">OUT3+</text>
<path d="M860.5,613.5 L860.5,565.5" stroke="#3a3230" stroke-width="0.9" fill="none"/>
<path d="M873.5,565.5 L873.5,586.5" stroke="#3a3230" stroke-width="0.9" fill="none"/>
<path d="M860.5,565.5 L863.5,565.5" stroke="#3a3230" stroke-width="0.9" fill="none"/>
<path d="M863.5,565.5 L865.5,562.5" stroke="#3a3230" stroke-width="0.9" fill="none"/>
<path d="M868.5,562.5 L870.5,565.5" stroke="#3a3230" stroke-width="0.9" fill="none"/>
<path d="M870.5,565.5 L873.5,565.5" stroke="#3a3230" stroke-width="0.9" fill="none"/>
<path d="M862.5,562.5 L870.5,562.5" stroke="#3a3230" stroke-width="0.9" fill="none"/>
<circle cx="839.5" cy="586.5" r="1.65" fill="#3a3230"/>
<path d="M839.5,586.5 L839.5,620.5 L851.5,620.5 L857.5,613.5" stroke="#3a3230" stroke-width="0.9" fill="none"/>
<path d="M851.5,613.5 L868.5,613.5" stroke="#3a3230" stroke-width="1.2" fill="none"/>
<path d="M863.5,613.5 L868.5,620.5 L893.5,620.5 L893.5,675.5" stroke="#3a3230" stroke-width="0.9" fill="none"/>
<path d="M868.8,620.1 L865.47,618.45 L867.77,616.53 Z" stroke="#3a3230" stroke-width="0.5" fill="#3a3230"/>
<text transform="translate(852.5,610) scale(0.82,1)" font-size="7" text-anchor="start" fill="#2b2421" font-family="Liberation Serif" text-rendering="geometricPrecision" stroke="#2b2421" stroke-width="0.12">Q4</text>
<rect x="837.2" y="597.8" width="1.4" height="1.2" fill="#4e4644" opacity="0.8"/>
<rect x="851.7" y="603.6" width="1.2" height="1.2" fill="#4e4644" opacity="0.8"/>
<text transform="translate(854.7,624.7) scale(0.82,1)" font-size="7" text-anchor="start" fill="#2b2421" font-family="Liberation Serif" text-rendering="geometricPrecision" stroke="#2b2421" stroke-width="0.12">9013</text>
<circle cx="892.5" cy="678.9" r="3.3" stroke="#3a3230" stroke-width="1.0" fill="#fff"/>
<path d="M889.86,681.54 L895.14,676.26" stroke="#3a3230" stroke-width="1" fill="none"/>
<text transform="translate(881.9,692.5) scale(0.82,1)" font-size="10.7" text-anchor="start" fill="#2b2421" font-family="Liberation Serif" text-rendering="geometricPrecision" stroke="#2b2421" stroke-width="0.15">OUT4+</text>
<path d="M593.5,620.5 L593.5,675.5" stroke="#3a3230" stroke-width="0.9" fill="none"/>
<circle cx="593.5" cy="620.5" r="1.65" fill="#3a3230"/>
<path d="M593.5,586.5 L873.5,586.5" stroke="#3a3230" stroke-width="0.9" fill="none"/>
<circle cx="593.5" cy="678.9" r="3.3" stroke="#3a3230" stroke-width="1.0" fill="#fff"/>
<path d="M590.86,681.54 L596.14,676.26" stroke="#3a3230" stroke-width="1" fill="none"/>
<text transform="translate(581.2,692.5) scale(0.82,1)" font-size="10.7" text-anchor="start" fill="#2b2421" font-family="Liberation Serif" text-rendering="geometricPrecision" stroke="#2b2421" stroke-width="0.15">COM+</text></svg>
</body></html>
